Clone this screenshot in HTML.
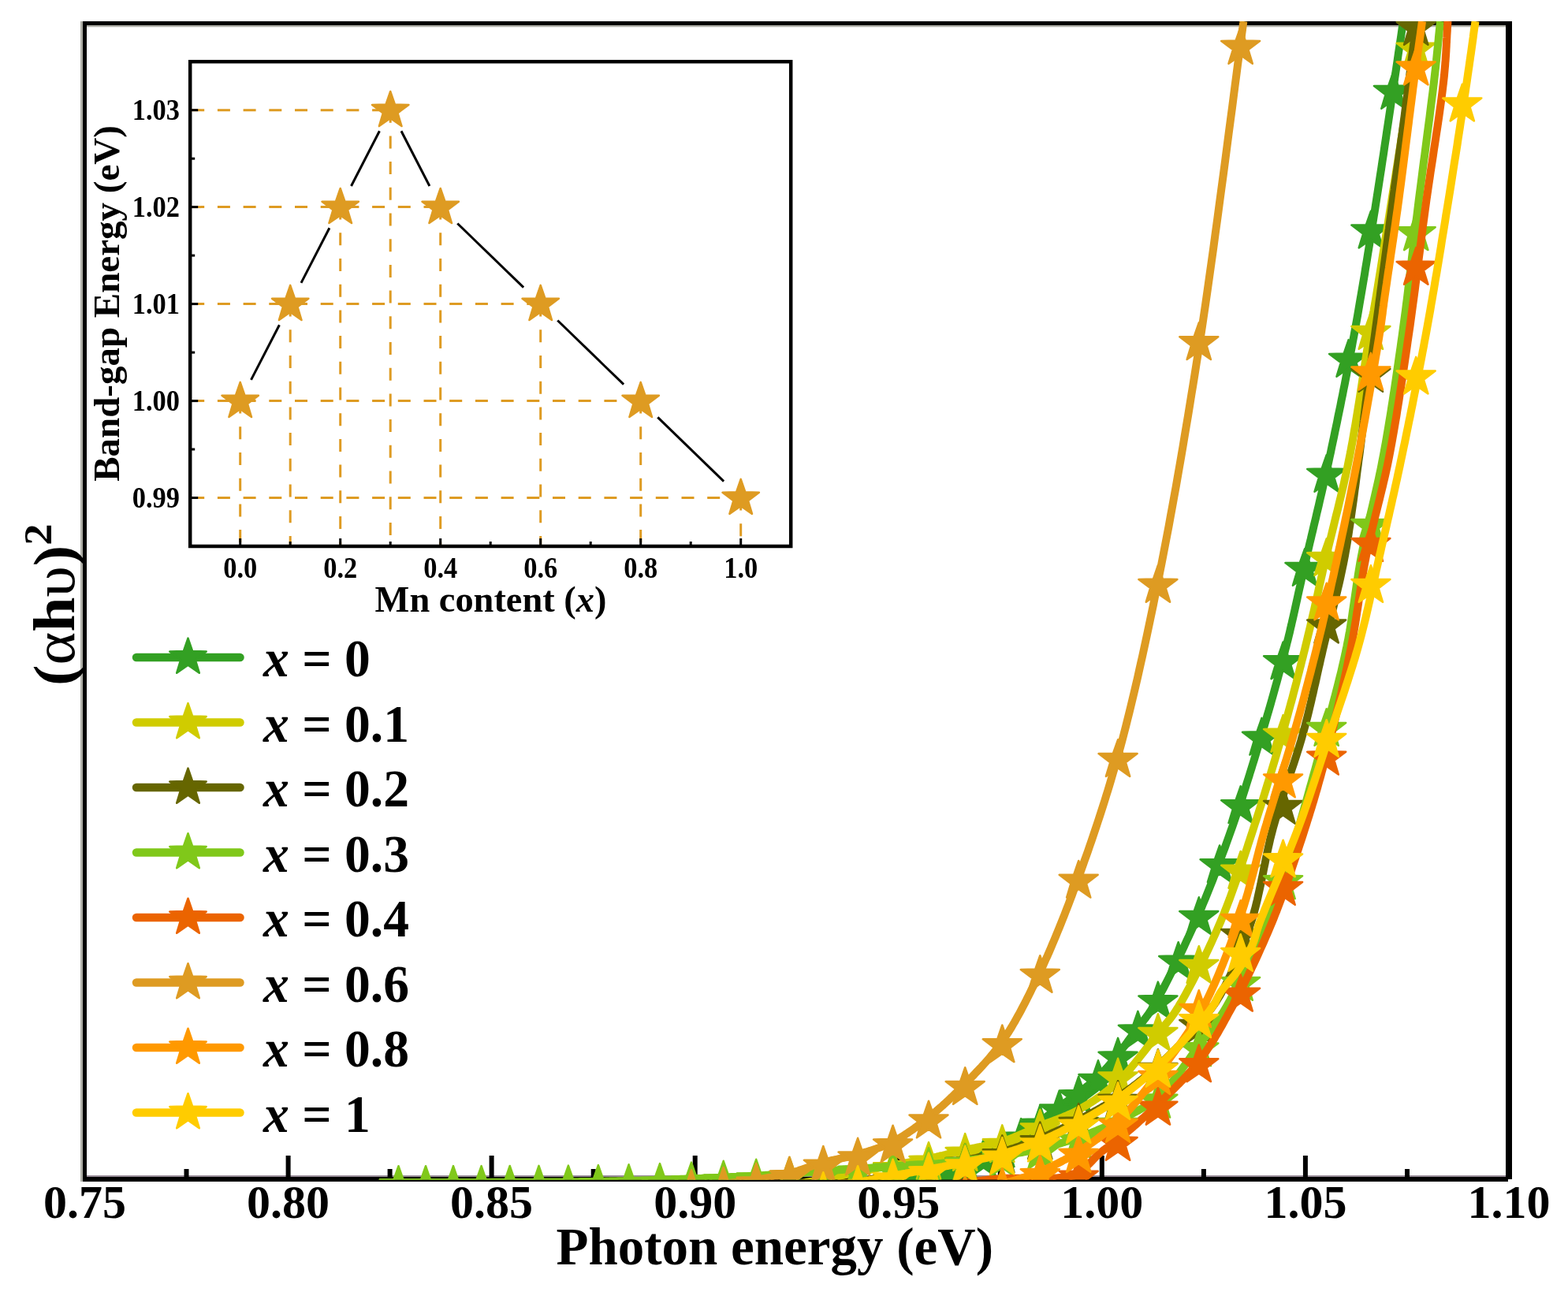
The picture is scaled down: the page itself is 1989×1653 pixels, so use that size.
<!DOCTYPE html><html><head><meta charset="utf-8"><style>html,body{margin:0;padding:0;background:#fff;}svg{display:block;}</style></head><body><svg width="1989" height="1653" viewBox="0 0 1989 1653">
<defs><clipPath id="pc"><rect x="110" y="27" width="1800" height="1469.5"/></clipPath></defs>
<rect width="1989" height="1653" fill="#fff"/>
<g stroke="#b0b0a8" stroke-linecap="butt"><line x1="103.5" y1="27" x2="103.5" y2="1499" stroke-width="3"/><line x1="110" y1="33" x2="1910" y2="33" stroke-width="2.5"/><line x1="110" y1="1492" x2="1910" y2="1492" stroke-width="2" stroke="#9a8e9a"/></g>
<g stroke="#000" stroke-linecap="butt">
<line x1="107.5" y1="27" x2="107.5" y2="1499" stroke-width="5"/>
<line x1="105" y1="29.5" x2="1918" y2="29.5" stroke-width="5"/>
<line x1="1914" y1="27" x2="1914" y2="1496" stroke-width="8"/>
<line x1="105" y1="1496" x2="1913" y2="1496" stroke-width="6"/>
<line x1="236.5" y1="1483" x2="236.5" y2="1494" stroke-width="6"/>
<line x1="365.6" y1="1466" x2="365.6" y2="1494" stroke-width="6"/>
<line x1="494.6" y1="1483" x2="494.6" y2="1494" stroke-width="6"/>
<line x1="623.6" y1="1466" x2="623.6" y2="1494" stroke-width="6"/>
<line x1="752.7" y1="1483" x2="752.7" y2="1494" stroke-width="6"/>
<line x1="881.7" y1="1466" x2="881.7" y2="1494" stroke-width="6"/>
<line x1="1010.7" y1="1483" x2="1010.7" y2="1494" stroke-width="6"/>
<line x1="1139.8" y1="1466" x2="1139.8" y2="1494" stroke-width="6"/>
<line x1="1268.8" y1="1483" x2="1268.8" y2="1494" stroke-width="6"/>
<line x1="1397.8" y1="1466" x2="1397.8" y2="1494" stroke-width="6"/>
<line x1="1526.9" y1="1483" x2="1526.9" y2="1494" stroke-width="6"/>
<line x1="1655.9" y1="1466" x2="1655.9" y2="1494" stroke-width="6"/>
<line x1="1785.0" y1="1483" x2="1785.0" y2="1494" stroke-width="6"/>
</g>
<g clip-path="url(#pc)">
<path d="M1780.0,27.0 L1778.5,36.7 L1777.1,46.6 L1775.6,56.4 L1774.1,66.3 L1772.7,76.3 L1771.2,86.3 L1769.7,96.3 L1768.2,106.3 L1766.7,116.3 L1765.2,126.3 L1763.8,136.3 L1762.3,146.2 L1760.8,156.2 L1759.3,166.0 L1757.9,175.8 L1756.4,185.6 L1755.0,195.3 L1753.5,204.8 L1752.1,214.3 L1750.6,223.7 L1749.2,233.0 L1747.8,242.1 L1746.4,251.1 L1745.0,260.0 L1743.9,267.2 L1742.7,274.4 L1741.6,281.4 L1740.5,288.4 L1739.4,295.3 L1738.3,302.1 L1737.3,308.9 L1736.2,315.6 L1735.1,322.2 L1734.1,328.8 L1733.0,335.4 L1731.9,341.9 L1730.9,348.4 L1729.8,354.9 L1728.7,361.4 L1727.6,367.8 L1726.5,374.3 L1725.4,380.7 L1724.3,387.2 L1723.2,393.7 L1722.1,400.2 L1720.9,406.8 L1719.7,413.4 L1718.5,420.0 L1717.3,426.7 L1716.0,433.4 L1714.8,440.1 L1713.5,446.9 L1712.2,453.7 L1710.9,460.4 L1709.6,467.2 L1708.3,474.0 L1707.0,480.8 L1705.7,487.6 L1704.3,494.3 L1703.0,501.1 L1701.6,507.8 L1700.3,514.6 L1698.9,521.3 L1697.5,527.9 L1696.2,534.6 L1694.8,541.2 L1693.4,547.8 L1692.1,554.3 L1690.7,560.8 L1689.3,567.3 L1688.0,573.7 L1686.6,580.0 L1685.4,585.7 L1684.1,591.4 L1682.9,597.0 L1681.6,602.6 L1680.4,608.2 L1679.1,613.7 L1677.8,619.3 L1676.6,624.8 L1675.3,630.2 L1674.0,635.7 L1672.8,641.1 L1671.5,646.5 L1670.2,651.9 L1669.0,657.3 L1667.7,662.7 L1666.4,668.0 L1665.2,673.3 L1663.9,678.6 L1662.7,683.9 L1661.4,689.1 L1660.2,694.4 L1659.0,699.6 L1657.8,704.8 L1656.6,710.0 L1655.5,714.8 L1654.4,719.5 L1653.4,724.2 L1652.3,728.9 L1651.3,733.5 L1650.3,738.2 L1649.3,742.8 L1648.2,747.4 L1647.2,751.9 L1646.2,756.5 L1645.2,761.1 L1644.2,765.6 L1643.2,770.1 L1642.2,774.7 L1641.2,779.2 L1640.2,783.7 L1639.1,788.2 L1638.1,792.8 L1637.0,797.3 L1636.0,801.8 L1634.9,806.3 L1633.8,810.9 L1632.6,815.4 L1631.5,820.0 L1630.3,824.6 L1629.2,829.2 L1628.0,833.8 L1626.8,838.3 L1625.6,842.9 L1624.4,847.4 L1623.2,852.0 L1621.9,856.6 L1620.7,861.1 L1619.5,865.7 L1618.2,870.2 L1616.9,874.8 L1615.7,879.3 L1614.4,883.9 L1613.1,888.5 L1611.8,893.1 L1610.5,897.6 L1609.2,902.2 L1607.8,906.8 L1606.5,911.4 L1605.1,916.1 L1603.8,920.7 L1602.4,925.3 L1601.0,930.0 L1599.5,934.9 L1598.1,939.8 L1596.6,944.8 L1595.1,949.8 L1593.6,954.7 L1592.1,959.7 L1590.6,964.7 L1589.0,969.7 L1587.5,974.7 L1585.9,979.7 L1584.4,984.8 L1582.8,989.8 L1581.2,994.8 L1579.6,999.9 L1578.0,1004.9 L1576.4,1009.9 L1574.7,1015.0 L1573.1,1020.0 L1571.4,1025.0 L1569.7,1030.0 L1568.0,1035.0 L1566.3,1040.0 L1564.6,1045.0 L1562.8,1050.0 L1561.0,1055.0 L1559.2,1060.1 L1557.4,1065.1 L1555.6,1070.2 L1553.8,1075.2 L1551.9,1080.3 L1550.0,1085.3 L1548.2,1090.4 L1546.3,1095.4 L1544.4,1100.5 L1542.4,1105.5 L1540.5,1110.6 L1538.6,1115.6 L1536.6,1120.6 L1534.6,1125.6 L1532.6,1130.6 L1530.6,1135.6 L1528.6,1140.6 L1526.5,1145.5 L1524.5,1150.5 L1522.4,1155.4 L1520.3,1160.3 L1518.1,1165.1 L1516.0,1170.0 L1513.9,1174.8 L1511.7,1179.7 L1509.4,1184.6 L1507.1,1189.7 L1504.7,1194.7 L1502.4,1199.8 L1499.9,1205.0 L1497.5,1210.1 L1495.0,1215.2 L1492.6,1220.3 L1490.1,1225.4 L1487.6,1230.4 L1485.2,1235.3 L1482.8,1240.1 L1480.4,1244.8 L1478.0,1249.4 L1475.7,1253.9 L1473.4,1258.2 L1471.1,1262.3 L1469.0,1266.3 L1466.8,1270.1 L1464.8,1273.6 L1462.9,1276.9 L1461.0,1280.0 L1460.1,1281.5 L1459.2,1282.9 L1458.3,1284.2 L1457.4,1285.5 L1456.6,1286.7 L1455.8,1287.9 L1454.9,1289.0 L1454.1,1290.1 L1453.3,1291.2 L1452.6,1292.2 L1451.8,1293.2 L1451.0,1294.2 L1450.2,1295.1 L1449.5,1296.1 L1448.7,1297.0 L1447.9,1298.0 L1447.2,1298.9 L1446.4,1299.9 L1445.6,1300.8 L1444.8,1301.8 L1444.0,1302.8 L1443.2,1303.8 L1442.4,1304.9 L1441.6,1306.0 L1440.7,1307.2 L1439.8,1308.4 L1438.9,1309.6 L1438.0,1310.9 L1437.1,1312.1 L1436.2,1313.4 L1435.3,1314.6 L1434.4,1315.9 L1433.5,1317.1 L1432.6,1318.4 L1431.7,1319.6 L1430.8,1320.9 L1429.9,1322.2 L1429.0,1323.4 L1428.1,1324.7 L1427.1,1326.0 L1426.2,1327.2 L1425.2,1328.5 L1424.3,1329.7 L1423.3,1331.0 L1422.4,1332.3 L1421.4,1333.5 L1420.4,1334.8 L1419.4,1336.0 L1418.3,1337.3 L1417.3,1338.6 L1416.3,1339.9 L1415.2,1341.2 L1414.2,1342.5 L1413.1,1343.8 L1412.1,1345.1 L1411.0,1346.4 L1409.9,1347.7 L1408.9,1349.0 L1407.8,1350.2 L1406.7,1351.5 L1405.6,1352.8 L1404.4,1354.1 L1403.3,1355.4 L1402.1,1356.7 L1400.9,1358.0 L1399.7,1359.3 L1398.5,1360.5 L1397.3,1361.8 L1396.0,1363.1 L1394.7,1364.4 L1393.4,1365.7 L1392.0,1367.0 L1390.3,1368.6 L1388.5,1370.2 L1386.7,1371.8 L1384.8,1373.4 L1382.9,1375.0 L1380.9,1376.5 L1379.0,1378.1 L1376.9,1379.7 L1374.9,1381.3 L1372.8,1382.9 L1370.7,1384.5 L1368.6,1386.1 L1366.4,1387.7 L1364.3,1389.3 L1362.1,1390.9 L1360.0,1392.5 L1357.8,1394.1 L1355.7,1395.7 L1353.5,1397.2 L1351.4,1398.8 L1349.2,1400.4 L1347.1,1401.9 L1345.1,1403.5 L1343.0,1405.0 L1341.0,1406.5 L1339.0,1408.0 L1337.0,1409.5 L1335.0,1411.1 L1333.0,1412.6 L1331.0,1414.1 L1329.0,1415.6 L1327.0,1417.1 L1325.0,1418.7 L1323.0,1420.2 L1321.0,1421.7 L1319.0,1423.2 L1317.0,1424.6 L1315.0,1426.1 L1313.0,1427.6 L1311.0,1429.0 L1309.0,1430.5 L1307.0,1431.9 L1305.0,1433.3 L1303.0,1434.7 L1301.0,1436.0 L1299.0,1437.4 L1297.0,1438.7 L1295.0,1440.0 L1293.1,1441.2 L1291.3,1442.4 L1289.4,1443.5 L1287.6,1444.7 L1285.7,1445.8 L1283.9,1446.9 L1282.0,1448.0 L1280.2,1449.1 L1278.3,1450.2 L1276.5,1451.3 L1274.6,1452.3 L1272.8,1453.4 L1270.9,1454.4 L1269.0,1455.4 L1267.2,1456.4 L1265.3,1457.4 L1263.4,1458.4 L1261.5,1459.4 L1259.6,1460.3 L1257.7,1461.3 L1255.8,1462.2 L1253.9,1463.2 L1252.0,1464.1 L1250.0,1465.0 L1248.0,1465.9 L1246.0,1466.8 L1244.0,1467.7 L1241.9,1468.6 L1239.9,1469.5 L1237.8,1470.4 L1235.8,1471.3 L1233.7,1472.1 L1231.6,1472.9 L1229.5,1473.8 L1227.4,1474.6 L1225.3,1475.4 L1223.2,1476.2 L1221.1,1477.0 L1219.0,1477.7 L1216.9,1478.5 L1214.8,1479.2 L1212.7,1480.0 L1210.6,1480.7 L1208.4,1481.4 L1206.3,1482.0 L1204.2,1482.7 L1202.1,1483.4 L1200.0,1484.0 L1197.9,1484.6 L1195.9,1485.2 L1193.8,1485.8 L1191.7,1486.3 L1189.7,1486.8 L1187.6,1487.4 L1185.5,1487.9 L1183.4,1488.4 L1181.3,1488.8 L1179.3,1489.3 L1177.2,1489.8 L1175.1,1490.2 L1173.0,1490.7 L1170.9,1491.1 L1168.8,1491.5 L1166.7,1491.9 L1164.6,1492.3 L1162.5,1492.7 L1160.5,1493.1 L1158.4,1493.5 L1156.3,1493.9 L1154.2,1494.2 L1152.1,1494.6 L1150.0,1495.0 L1147.9,1495.4 L1145.9,1495.7 L1143.9,1496.1 L1141.9,1496.4 L1139.9,1496.8 L1137.9,1497.1 L1136.0,1497.4 L1134.0,1497.7 L1132.0,1498.0 L1130.1,1498.3 L1128.1,1498.6 L1126.1,1498.9 L1124.1,1499.2 L1122.1,1499.4 L1120.0,1499.7 L1118.0,1500.0 L1115.9,1500.2 L1113.7,1500.5 L1111.6,1500.8 L1109.3,1501.0 L1107.1,1501.3 L1104.8,1501.5 L1102.4,1501.8 L1100.0,1502.0 L1096.6,1502.3 L1093.1,1502.7 L1089.7,1503.0 L1086.2,1503.3 L1082.8,1503.6 L1079.3,1503.9 L1075.7,1504.2 L1072.1,1504.5 L1068.5,1504.7 L1064.7,1505.0 L1060.9,1505.2 L1057.1,1505.5 L1053.1,1505.7 L1049.0,1506.0 L1044.7,1506.2 L1040.4,1506.4 L1035.9,1506.6 L1031.3,1506.8 L1026.5,1507.0 L1021.6,1507.2 L1016.5,1507.4 L1011.2,1507.6 L1005.7,1507.8 L1000.0,1508.0 L986.1,1508.4 L970.9,1508.7 L954.4,1509.0 L936.8,1509.3 L918.2,1509.5 L898.6,1509.6 L878.0,1509.8 L856.7,1509.9 L834.7,1509.9 L812.1,1510.0 L789.0,1510.0 L765.4,1510.0 L741.4,1510.0 L717.2,1510.0 L692.8,1510.0 L668.4,1509.9 L643.9,1509.9 L619.5,1509.9 L595.3,1509.9 L571.4,1509.9 L547.8,1509.9 L524.6,1509.9 L502.0,1509.9 L480.0,1510.0" fill="none" stroke="#33a023" stroke-width="10" stroke-linejoin="round"/>
<path d="M1767.4,91.2 L1773.5,108.7 L1791.9,109.0 L1777.2,120.2 L1782.5,137.8 L1767.4,127.3 L1752.3,137.8 L1757.6,120.2 L1742.9,109.0 L1761.3,108.7Z M1738.9,267.9 L1744.9,285.3 L1763.4,285.6 L1748.7,296.8 L1754.0,314.4 L1738.9,303.9 L1723.7,314.4 L1729.1,296.8 L1714.4,285.6 L1732.8,285.3Z M1710.6,431.1 L1716.7,448.6 L1735.1,448.9 L1720.4,460.1 L1725.8,477.7 L1710.6,467.2 L1695.5,477.7 L1700.8,460.1 L1686.1,448.9 L1704.6,448.6Z M1682.7,577.2 L1688.7,594.6 L1707.2,595.0 L1692.5,606.1 L1697.8,623.8 L1682.7,613.2 L1667.5,623.8 L1672.9,606.1 L1658.2,595.0 L1676.6,594.6Z M1655.0,696.3 L1661.1,713.7 L1679.5,714.1 L1664.8,725.2 L1670.1,742.8 L1655.0,732.3 L1639.9,742.8 L1645.2,725.2 L1630.5,714.1 L1648.9,713.7Z M1627.6,814.5 L1633.7,832.0 L1652.1,832.3 L1637.4,843.5 L1642.7,861.1 L1627.6,850.6 L1612.5,861.1 L1617.8,843.5 L1603.1,832.3 L1621.6,832.0Z M1600.5,910.9 L1606.6,928.3 L1625.0,928.7 L1610.3,939.9 L1615.6,957.5 L1600.5,947.0 L1585.4,957.5 L1590.7,939.9 L1576.0,928.7 L1594.4,928.3Z M1573.7,997.4 L1579.7,1014.9 L1598.1,1015.2 L1583.5,1026.4 L1588.8,1044.0 L1573.7,1033.5 L1558.5,1044.0 L1563.9,1026.4 L1549.2,1015.2 L1567.6,1014.9Z M1547.1,1072.5 L1553.1,1089.9 L1571.6,1090.3 L1556.9,1101.5 L1562.2,1119.1 L1547.1,1108.6 L1531.9,1119.1 L1537.3,1101.5 L1522.6,1090.3 L1541.0,1089.9Z M1520.8,1138.3 L1526.8,1155.8 L1545.3,1156.1 L1530.6,1167.3 L1535.9,1184.9 L1520.8,1174.4 L1505.6,1184.9 L1511.0,1167.3 L1496.3,1156.1 L1514.7,1155.8Z M1494.7,1195.2 L1500.8,1212.6 L1519.2,1212.9 L1504.5,1224.1 L1509.9,1241.7 L1494.7,1231.2 L1479.6,1241.7 L1484.9,1224.1 L1470.2,1212.9 L1488.7,1212.6Z M1468.9,1245.6 L1475.0,1263.0 L1493.4,1263.4 L1478.7,1274.5 L1484.1,1292.2 L1468.9,1281.7 L1453.8,1292.2 L1459.1,1274.5 L1444.4,1263.4 L1462.9,1263.0Z M1443.4,1282.9 L1449.4,1300.3 L1467.9,1300.7 L1453.2,1311.8 L1458.5,1329.5 L1443.4,1319.0 L1428.2,1329.5 L1433.6,1311.8 L1418.9,1300.7 L1437.3,1300.3Z M1418.1,1316.9 L1424.1,1334.3 L1442.6,1334.7 L1427.9,1345.8 L1433.2,1363.5 L1418.1,1352.9 L1402.9,1363.5 L1408.3,1345.8 L1393.6,1334.7 L1412.0,1334.3Z M1393.0,1345.3 L1399.1,1362.7 L1417.5,1363.1 L1402.8,1374.2 L1408.2,1391.9 L1393.0,1381.3 L1377.9,1391.9 L1383.2,1374.2 L1368.5,1363.1 L1387.0,1362.7Z M1368.2,1365.7 L1374.3,1383.1 L1392.7,1383.4 L1378.0,1394.6 L1383.3,1412.2 L1368.2,1401.7 L1353.1,1412.2 L1358.4,1394.6 L1343.7,1383.4 L1362.2,1383.1Z M1343.6,1383.8 L1349.7,1401.2 L1368.1,1401.6 L1353.4,1412.7 L1358.8,1430.4 L1343.6,1419.8 L1328.5,1430.4 L1333.8,1412.7 L1319.2,1401.6 L1337.6,1401.2Z M1319.3,1402.2 L1325.4,1419.6 L1343.8,1420.0 L1329.1,1431.1 L1334.4,1448.8 L1319.3,1438.3 L1304.2,1448.8 L1309.5,1431.1 L1294.8,1420.0 L1313.2,1419.6Z M1295.2,1419.1 L1301.2,1436.5 L1319.7,1436.9 L1305.0,1448.1 L1310.3,1465.7 L1295.2,1455.2 L1280.1,1465.7 L1285.4,1448.1 L1270.7,1436.9 L1289.1,1436.5Z M1271.3,1433.4 L1277.4,1450.8 L1295.8,1451.2 L1281.1,1462.3 L1286.4,1480.0 L1271.3,1469.5 L1256.2,1480.0 L1261.5,1462.3 L1246.8,1451.2 L1265.3,1450.8Z M1247.7,1445.3 L1253.7,1462.7 L1272.1,1463.1 L1257.5,1474.3 L1262.8,1491.9 L1247.7,1481.4 L1232.5,1491.9 L1237.9,1474.3 L1223.2,1463.1 L1241.6,1462.7Z M1224.2,1455.1 L1230.3,1472.5 L1248.7,1472.9 L1234.0,1484.0 L1239.4,1501.6 L1224.2,1491.1 L1209.1,1501.6 L1214.4,1484.0 L1199.7,1472.9 L1218.2,1472.5Z M1201.0,1462.9 L1207.1,1480.4 L1225.5,1480.7 L1210.8,1491.9 L1216.1,1509.5 L1201.0,1499.0 L1185.9,1509.5 L1191.2,1491.9 L1176.5,1480.7 L1194.9,1480.4Z M1178.0,1468.8 L1184.1,1486.3 L1202.5,1486.6 L1187.8,1497.8 L1193.1,1515.4 L1178.0,1504.9 L1162.9,1515.4 L1168.2,1497.8 L1153.5,1486.6 L1171.9,1486.3Z M1155.2,1473.3 L1161.3,1490.7 L1179.7,1491.1 L1165.0,1502.2 L1170.3,1519.9 L1155.2,1509.4 L1140.1,1519.9 L1145.4,1502.2 L1130.7,1491.1 L1149.2,1490.7Z" fill="#33a023" stroke="#33a023" stroke-width="2.5" stroke-linejoin="round"/>
<path d="M1801.0,27.0 L1800.8,28.5 L1800.6,29.9 L1800.4,31.2 L1800.2,32.6 L1800.0,33.8 L1799.8,35.1 L1799.6,36.4 L1799.4,37.6 L1799.2,38.9 L1799.0,40.1 L1798.8,41.4 L1798.6,42.7 L1798.4,44.0 L1798.2,45.4 L1798.0,46.8 L1797.8,48.2 L1797.5,49.8 L1797.3,51.4 L1797.0,53.0 L1796.8,54.8 L1796.5,56.6 L1796.2,58.6 L1795.8,60.6 L1795.5,62.8 L1794.3,70.2 L1792.9,79.2 L1791.3,89.4 L1789.5,100.9 L1787.5,113.5 L1785.4,127.0 L1783.1,141.3 L1780.8,156.4 L1778.3,171.9 L1775.8,187.9 L1773.2,204.2 L1770.6,220.6 L1768.0,237.0 L1765.4,253.3 L1762.9,269.3 L1760.4,285.0 L1757.9,300.1 L1755.6,314.5 L1753.4,328.2 L1751.4,341.0 L1749.5,352.6 L1747.8,363.1 L1746.3,372.3 L1745.0,380.0 L1744.6,382.4 L1744.2,384.6 L1743.9,386.6 L1743.5,388.6 L1743.2,390.4 L1742.9,392.1 L1742.7,393.7 L1742.4,395.2 L1742.1,396.6 L1741.9,398.0 L1741.6,399.4 L1741.4,400.7 L1741.2,402.0 L1740.9,403.4 L1740.7,404.7 L1740.4,406.1 L1740.2,407.5 L1739.9,409.0 L1739.6,410.6 L1739.3,412.2 L1739.0,414.0 L1738.7,415.9 L1738.4,417.9 L1738.0,420.0 L1737.2,424.6 L1736.4,429.7 L1735.6,435.0 L1734.7,440.7 L1733.7,446.7 L1732.8,452.9 L1731.8,459.4 L1730.8,466.1 L1729.7,473.0 L1728.6,480.0 L1727.5,487.2 L1726.4,494.4 L1725.3,501.8 L1724.1,509.2 L1722.9,516.6 L1721.7,524.0 L1720.5,531.4 L1719.3,538.7 L1718.0,546.0 L1716.8,553.1 L1715.6,560.1 L1714.3,566.9 L1713.1,573.6 L1711.8,580.0 L1710.6,585.7 L1709.5,591.4 L1708.3,597.0 L1707.1,602.6 L1705.8,608.2 L1704.6,613.8 L1703.3,619.3 L1702.0,624.8 L1700.7,630.3 L1699.4,635.7 L1698.1,641.2 L1696.8,646.6 L1695.4,652.0 L1694.1,657.3 L1692.8,662.7 L1691.5,668.0 L1690.2,673.3 L1688.9,678.6 L1687.6,683.9 L1686.3,689.1 L1685.0,694.4 L1683.8,699.6 L1682.5,704.8 L1681.3,710.0 L1680.2,714.8 L1679.1,719.5 L1678.0,724.2 L1677.0,728.9 L1675.9,733.5 L1674.9,738.2 L1673.8,742.8 L1672.8,747.4 L1671.8,751.9 L1670.8,756.5 L1669.7,761.1 L1668.7,765.6 L1667.7,770.1 L1666.7,774.7 L1665.6,779.2 L1664.6,783.7 L1663.6,788.2 L1662.5,792.7 L1661.5,797.3 L1660.4,801.8 L1659.3,806.3 L1658.2,810.9 L1657.1,815.4 L1656.0,820.0 L1654.9,824.6 L1653.7,829.2 L1652.6,833.7 L1651.4,838.3 L1650.3,842.9 L1649.1,847.4 L1648.0,852.0 L1646.8,856.5 L1645.6,861.1 L1644.5,865.7 L1643.3,870.2 L1642.1,874.8 L1640.9,879.3 L1639.7,883.9 L1638.5,888.5 L1637.2,893.0 L1636.0,897.6 L1634.7,902.2 L1633.5,906.8 L1632.2,911.4 L1630.9,916.1 L1629.6,920.7 L1628.3,925.3 L1627.0,930.0 L1625.6,934.9 L1624.2,939.8 L1622.8,944.8 L1621.3,949.7 L1619.9,954.7 L1618.4,959.7 L1616.9,964.7 L1615.4,969.7 L1613.9,974.7 L1612.4,979.7 L1610.9,984.7 L1609.4,989.8 L1607.8,994.8 L1606.3,999.8 L1604.7,1004.9 L1603.2,1009.9 L1601.6,1014.9 L1600.0,1020.0 L1598.4,1025.0 L1596.8,1030.0 L1595.2,1035.0 L1593.6,1040.0 L1591.9,1045.0 L1590.3,1050.0 L1588.7,1055.0 L1587.0,1060.1 L1585.4,1065.1 L1583.7,1070.1 L1582.1,1075.2 L1580.4,1080.3 L1578.8,1085.3 L1577.1,1090.4 L1575.4,1095.4 L1573.8,1100.5 L1572.1,1105.5 L1570.3,1110.6 L1568.6,1115.6 L1566.9,1120.6 L1565.1,1125.6 L1563.3,1130.6 L1561.5,1135.6 L1559.7,1140.6 L1557.8,1145.5 L1555.9,1150.5 L1554.0,1155.4 L1552.0,1160.3 L1550.0,1165.2 L1548.0,1170.0 L1545.9,1174.8 L1543.8,1179.7 L1541.6,1184.6 L1539.4,1189.6 L1537.1,1194.7 L1534.8,1199.7 L1532.4,1204.8 L1530.0,1209.9 L1527.6,1215.0 L1525.2,1220.0 L1522.7,1225.0 L1520.3,1230.0 L1517.8,1234.9 L1515.4,1239.7 L1513.0,1244.4 L1510.6,1249.0 L1508.2,1253.4 L1505.9,1257.7 L1503.6,1261.9 L1501.3,1265.9 L1499.2,1269.8 L1497.0,1273.4 L1495.0,1276.8 L1493.0,1280.0 L1491.9,1281.7 L1490.9,1283.2 L1489.9,1284.7 L1488.9,1286.2 L1488.0,1287.5 L1487.0,1288.8 L1486.1,1290.1 L1485.2,1291.3 L1484.3,1292.4 L1483.4,1293.6 L1482.5,1294.7 L1481.6,1295.7 L1480.7,1296.8 L1479.8,1297.9 L1478.9,1299.0 L1478.0,1300.1 L1477.1,1301.2 L1476.1,1302.3 L1475.1,1303.5 L1474.1,1304.7 L1473.0,1305.9 L1472.0,1307.2 L1470.9,1308.6 L1469.7,1310.0 L1468.0,1312.2 L1466.2,1314.5 L1464.3,1316.9 L1462.4,1319.3 L1460.5,1321.9 L1458.5,1324.5 L1456.4,1327.2 L1454.4,1329.9 L1452.3,1332.6 L1450.1,1335.4 L1447.9,1338.2 L1445.7,1341.0 L1443.5,1343.8 L1441.3,1346.6 L1439.0,1349.4 L1436.7,1352.2 L1434.5,1354.9 L1432.2,1357.6 L1429.9,1360.2 L1427.6,1362.7 L1425.3,1365.2 L1423.0,1367.5 L1420.7,1369.8 L1418.4,1372.0 L1416.4,1373.8 L1414.4,1375.6 L1412.4,1377.4 L1410.3,1379.2 L1408.3,1380.9 L1406.2,1382.6 L1404.1,1384.2 L1402.0,1385.8 L1400.0,1387.4 L1397.9,1389.0 L1395.8,1390.5 L1393.6,1392.0 L1391.5,1393.5 L1389.4,1394.9 L1387.3,1396.3 L1385.1,1397.7 L1383.0,1399.1 L1380.9,1400.4 L1378.7,1401.7 L1376.6,1403.0 L1374.4,1404.3 L1372.3,1405.6 L1370.1,1406.8 L1368.0,1408.0 L1366.0,1409.1 L1364.1,1410.1 L1362.1,1411.1 L1360.1,1412.1 L1358.1,1413.0 L1356.1,1413.9 L1354.1,1414.8 L1352.1,1415.7 L1350.1,1416.5 L1348.1,1417.3 L1346.1,1418.1 L1344.1,1418.9 L1342.1,1419.7 L1340.1,1420.4 L1338.1,1421.2 L1336.1,1422.0 L1334.1,1422.7 L1332.0,1423.5 L1330.0,1424.2 L1328.0,1425.0 L1326.0,1425.8 L1324.0,1426.6 L1322.0,1427.4 L1320.0,1428.2 L1318.0,1429.0 L1316.0,1429.9 L1314.0,1430.7 L1312.0,1431.6 L1310.0,1432.5 L1308.0,1433.4 L1306.0,1434.2 L1304.0,1435.1 L1302.0,1436.0 L1300.1,1436.9 L1298.1,1437.7 L1296.1,1438.6 L1294.1,1439.5 L1292.1,1440.3 L1290.1,1441.2 L1288.1,1442.0 L1286.1,1442.8 L1284.1,1443.6 L1282.1,1444.4 L1280.1,1445.1 L1278.0,1445.9 L1276.0,1446.6 L1274.0,1447.2 L1272.0,1447.9 L1270.0,1448.5 L1268.1,1449.1 L1266.1,1449.6 L1264.1,1450.2 L1262.2,1450.7 L1260.2,1451.2 L1258.2,1451.7 L1256.2,1452.1 L1254.3,1452.6 L1252.3,1453.0 L1250.3,1453.4 L1248.3,1453.8 L1246.3,1454.3 L1244.3,1454.7 L1242.4,1455.1 L1240.4,1455.5 L1238.4,1455.9 L1236.4,1456.3 L1234.4,1456.7 L1232.5,1457.1 L1230.5,1457.5 L1228.5,1457.9 L1226.6,1458.3 L1224.6,1458.8 L1222.7,1459.3 L1220.7,1459.7 L1218.8,1460.2 L1216.9,1460.6 L1215.0,1461.1 L1213.1,1461.6 L1211.1,1462.0 L1209.2,1462.5 L1207.3,1463.0 L1205.4,1463.5 L1203.5,1463.9 L1201.6,1464.4 L1199.7,1464.9 L1197.8,1465.3 L1195.9,1465.8 L1193.9,1466.2 L1192.0,1466.7 L1190.1,1467.1 L1188.2,1467.6 L1186.3,1468.0 L1184.4,1468.5 L1182.5,1468.9 L1180.6,1469.3 L1178.7,1469.7 L1176.8,1470.1 L1175.0,1470.5 L1173.1,1470.8 L1171.2,1471.2 L1169.4,1471.6 L1167.5,1471.9 L1165.7,1472.3 L1163.8,1472.6 L1161.9,1473.0 L1160.1,1473.3 L1158.2,1473.6 L1156.4,1474.0 L1154.5,1474.3 L1152.6,1474.6 L1150.8,1475.0 L1148.9,1475.3 L1147.1,1475.6 L1145.2,1475.9 L1143.3,1476.3 L1141.5,1476.6 L1139.6,1477.0 L1137.7,1477.3 L1135.9,1477.6 L1134.0,1478.0 L1132.1,1478.4 L1130.2,1478.7 L1128.3,1479.1 L1126.4,1479.5 L1124.4,1479.8 L1122.5,1480.2 L1120.6,1480.6 L1118.7,1480.9 L1116.7,1481.3 L1114.8,1481.7 L1112.9,1482.1 L1111.0,1482.5 L1109.0,1482.8 L1107.1,1483.2 L1105.2,1483.6 L1103.3,1484.0 L1101.4,1484.3 L1099.4,1484.7 L1097.5,1485.1 L1095.6,1485.5 L1093.7,1485.9 L1091.8,1486.2 L1089.9,1486.6 L1088.0,1487.0 L1086.1,1487.4 L1084.3,1487.7 L1082.5,1488.1 L1080.6,1488.5 L1078.8,1488.9 L1076.9,1489.3 L1075.1,1489.7 L1073.3,1490.1 L1071.4,1490.4 L1069.6,1490.8 L1067.8,1491.2 L1065.9,1491.6 L1064.1,1492.0 L1062.3,1492.4 L1060.5,1492.8 L1058.6,1493.1 L1056.8,1493.5 L1055.0,1493.9 L1053.2,1494.3 L1051.3,1494.6 L1049.5,1495.0 L1047.7,1495.3 L1045.8,1495.7 L1044.0,1496.0 L1042.2,1496.3 L1040.4,1496.7 L1038.6,1497.0 L1036.9,1497.3 L1035.2,1497.6 L1033.4,1498.0 L1031.7,1498.3 L1030.0,1498.6 L1028.3,1498.9 L1026.6,1499.2 L1024.9,1499.5 L1023.1,1499.8 L1021.4,1500.1 L1019.6,1500.4 L1017.8,1500.7 L1016.0,1501.0 L1014.2,1501.2 L1012.3,1501.5 L1010.4,1501.8 L1008.4,1502.0 L1006.4,1502.3 L1004.3,1502.5 L1002.2,1502.8 L1000.0,1503.0 L996.7,1503.3 L993.3,1503.7 L989.9,1504.0 L986.5,1504.2 L983.0,1504.5 L979.5,1504.8 L975.9,1505.0 L972.2,1505.3 L968.5,1505.5 L964.7,1505.7 L960.8,1505.9 L956.9,1506.1 L952.8,1506.3 L948.6,1506.4 L944.3,1506.6 L940.0,1506.8 L935.4,1506.9 L930.8,1507.1 L926.0,1507.2 L921.1,1507.4 L916.1,1507.5 L910.9,1507.7 L905.5,1507.8 L900.0,1508.0 L888.0,1508.3 L875.1,1508.6 L861.3,1508.8 L846.7,1509.0 L831.4,1509.1 L815.3,1509.3 L798.7,1509.4 L781.4,1509.5 L763.7,1509.6 L745.5,1509.6 L726.9,1509.7 L708.1,1509.7 L689.0,1509.7 L669.6,1509.7 L650.2,1509.7 L630.7,1509.7 L611.2,1509.8 L591.8,1509.8 L572.5,1509.8 L553.3,1509.8 L534.5,1509.8 L515.9,1509.9 L497.7,1509.9 L480.0,1510.0" fill="none" stroke="#d0cc00" stroke-width="10" stroke-linejoin="round"/>
<path d="M1796.2,37.0 L1802.3,54.5 L1820.7,54.8 L1806.0,66.0 L1811.4,83.6 L1796.2,73.1 L1781.1,83.6 L1786.4,66.0 L1771.7,54.8 L1790.2,54.5Z M1738.9,396.2 L1744.9,413.7 L1763.4,414.0 L1748.7,425.2 L1754.0,442.8 L1738.9,432.3 L1723.7,442.8 L1729.1,425.2 L1714.4,414.0 L1732.8,413.7Z M1682.7,683.4 L1688.7,700.8 L1707.2,701.2 L1692.5,712.3 L1697.8,730.0 L1682.7,719.4 L1667.5,730.0 L1672.9,712.3 L1658.2,701.2 L1676.6,700.8Z M1627.6,907.1 L1633.7,924.5 L1652.1,924.9 L1637.4,936.0 L1642.7,953.7 L1627.6,943.1 L1612.5,953.7 L1617.8,936.0 L1603.1,924.9 L1621.6,924.5Z M1573.7,1080.0 L1579.7,1097.4 L1598.1,1097.8 L1583.5,1108.9 L1588.8,1126.6 L1573.7,1116.1 L1558.5,1126.6 L1563.9,1108.9 L1549.2,1097.8 L1567.6,1097.4Z M1520.8,1200.2 L1526.8,1217.7 L1545.3,1218.0 L1530.6,1229.2 L1535.9,1246.8 L1520.8,1236.3 L1505.6,1246.8 L1511.0,1229.2 L1496.3,1218.0 L1514.7,1217.7Z M1468.9,1286.2 L1475.0,1303.7 L1493.4,1304.0 L1478.7,1315.2 L1484.1,1332.8 L1468.9,1322.3 L1453.8,1332.8 L1459.1,1315.2 L1444.4,1304.0 L1462.9,1303.7Z M1418.1,1342.8 L1424.1,1360.3 L1442.6,1360.6 L1427.9,1371.8 L1433.2,1389.4 L1418.1,1378.9 L1402.9,1389.4 L1408.3,1371.8 L1393.6,1360.6 L1412.0,1360.3Z M1368.2,1403.2 L1374.3,1420.7 L1392.7,1421.0 L1378.0,1432.2 L1383.3,1449.8 L1368.2,1439.3 L1353.1,1449.8 L1358.4,1432.2 L1343.7,1421.0 L1362.2,1420.7Z M1319.3,1407.7 L1325.4,1425.2 L1343.8,1425.5 L1329.1,1436.7 L1334.4,1454.3 L1319.3,1443.8 L1304.2,1454.3 L1309.5,1436.7 L1294.8,1425.5 L1313.2,1425.2Z M1271.3,1427.4 L1277.4,1444.8 L1295.8,1445.2 L1281.1,1456.3 L1286.4,1473.9 L1271.3,1463.4 L1256.2,1473.9 L1261.5,1456.3 L1246.8,1445.2 L1265.3,1444.8Z M1224.2,1438.1 L1230.3,1455.6 L1248.7,1455.9 L1234.0,1467.1 L1239.4,1484.7 L1224.2,1474.2 L1209.1,1484.7 L1214.4,1467.1 L1199.7,1455.9 L1218.2,1455.6Z M1178.0,1449.1 L1184.1,1466.5 L1202.5,1466.9 L1187.8,1478.0 L1193.1,1495.7 L1178.0,1485.1 L1162.9,1495.7 L1168.2,1478.0 L1153.5,1466.9 L1171.9,1466.5Z M1132.6,1457.5 L1138.7,1474.9 L1157.1,1475.3 L1142.4,1486.4 L1147.8,1504.1 L1132.6,1493.6 L1117.5,1504.1 L1122.8,1486.4 L1108.1,1475.3 L1126.6,1474.9Z" fill="#d0cc00" stroke="#d0cc00" stroke-width="2.5" stroke-linejoin="round"/>
<path d="M1796.7,27.0 L1796.1,31.9 L1795.5,36.8 L1794.9,41.6 L1794.3,46.5 L1793.7,51.4 L1793.1,56.3 L1792.5,61.1 L1791.9,66.0 L1791.2,70.9 L1790.6,75.8 L1790.0,80.7 L1789.4,85.5 L1788.8,90.4 L1788.2,95.3 L1787.6,100.2 L1787.0,105.0 L1786.4,109.9 L1785.8,114.8 L1785.2,119.7 L1784.5,124.5 L1783.9,129.4 L1783.3,134.3 L1782.6,139.1 L1782.0,144.0 L1781.4,148.8 L1780.7,153.7 L1780.1,158.5 L1779.4,163.3 L1778.8,168.2 L1778.1,173.0 L1777.4,177.8 L1776.8,182.6 L1776.1,187.5 L1775.4,192.3 L1774.7,197.1 L1774.1,201.9 L1773.4,206.7 L1772.7,211.6 L1772.0,216.4 L1771.4,221.2 L1770.7,226.0 L1770.0,230.9 L1769.3,235.7 L1768.7,240.6 L1768.0,245.4 L1767.3,250.3 L1766.7,255.1 L1766.0,260.0 L1765.3,265.0 L1764.7,269.9 L1764.0,274.9 L1763.3,279.9 L1762.6,284.9 L1762.0,289.9 L1761.3,294.8 L1760.6,299.8 L1760.0,304.8 L1759.3,309.9 L1758.6,314.9 L1758.0,319.9 L1757.3,324.9 L1756.7,329.9 L1756.0,334.9 L1755.3,339.9 L1754.7,344.9 L1754.0,350.0 L1753.3,355.0 L1752.7,360.0 L1752.0,365.0 L1751.3,370.0 L1750.7,375.0 L1750.0,380.0 L1749.3,385.0 L1748.7,390.1 L1748.0,395.2 L1747.3,400.3 L1746.6,405.4 L1745.9,410.6 L1745.2,415.7 L1744.5,420.9 L1743.8,426.1 L1743.1,431.2 L1742.4,436.4 L1741.7,441.5 L1741.1,446.6 L1740.4,451.7 L1739.7,456.8 L1739.0,461.8 L1738.4,466.8 L1737.7,471.7 L1737.1,476.6 L1736.4,481.4 L1735.8,486.2 L1735.2,490.8 L1734.6,495.5 L1734.0,500.0 L1733.5,503.6 L1733.1,507.2 L1732.6,510.6 L1732.2,514.0 L1731.8,517.4 L1731.4,520.7 L1731.0,523.9 L1730.6,527.1 L1730.2,530.3 L1729.9,533.5 L1729.5,536.7 L1729.1,539.8 L1728.7,543.0 L1728.3,546.1 L1727.9,549.3 L1727.5,552.5 L1727.1,555.7 L1726.7,559.0 L1726.3,562.4 L1725.9,565.7 L1725.4,569.2 L1725.0,572.7 L1724.5,576.3 L1724.0,580.0 L1723.3,584.8 L1722.7,589.8 L1722.0,594.8 L1721.3,600.0 L1720.7,605.2 L1720.0,610.6 L1719.3,616.0 L1718.5,621.5 L1717.8,627.0 L1717.1,632.5 L1716.3,638.2 L1715.5,643.8 L1714.7,649.4 L1713.9,655.1 L1713.1,660.7 L1712.3,666.4 L1711.4,672.0 L1710.6,677.6 L1709.7,683.2 L1708.8,688.7 L1707.9,694.1 L1706.9,699.5 L1706.0,704.8 L1705.0,710.0 L1704.1,714.8 L1703.1,719.5 L1702.1,724.2 L1701.1,728.9 L1700.1,733.6 L1699.1,738.2 L1698.0,742.8 L1696.9,747.4 L1695.8,752.0 L1694.7,756.6 L1693.6,761.1 L1692.5,765.6 L1691.4,770.2 L1690.2,774.7 L1689.1,779.2 L1688.0,783.7 L1686.8,788.2 L1685.7,792.7 L1684.6,797.3 L1683.4,801.8 L1682.3,806.3 L1681.2,810.9 L1680.1,815.4 L1679.0,820.0 L1677.9,824.6 L1676.9,829.2 L1675.8,833.7 L1674.8,838.3 L1673.8,842.9 L1672.7,847.4 L1671.7,852.0 L1670.7,856.5 L1669.7,861.1 L1668.7,865.7 L1667.6,870.2 L1666.6,874.8 L1665.6,879.3 L1664.5,883.9 L1663.5,888.5 L1662.4,893.1 L1661.3,897.7 L1660.2,902.2 L1659.1,906.8 L1657.9,911.5 L1656.7,916.1 L1655.5,920.7 L1654.3,925.3 L1653.0,930.0 L1651.6,934.9 L1650.2,939.9 L1648.7,944.8 L1647.2,949.8 L1645.6,954.7 L1644.0,959.7 L1642.4,964.7 L1640.8,969.7 L1639.1,974.6 L1637.4,979.6 L1635.8,984.7 L1634.1,989.7 L1632.4,994.7 L1630.7,999.7 L1629.0,1004.7 L1627.3,1009.8 L1625.7,1014.8 L1624.1,1019.8 L1622.5,1024.8 L1620.9,1029.9 L1619.4,1034.9 L1617.9,1039.9 L1616.4,1045.0 L1615.0,1050.0 L1613.7,1055.0 L1612.4,1060.0 L1611.1,1065.1 L1610.0,1070.2 L1608.8,1075.3 L1607.7,1080.4 L1606.6,1085.5 L1605.5,1090.6 L1604.5,1095.8 L1603.4,1100.9 L1602.4,1106.1 L1601.4,1111.2 L1600.3,1116.3 L1599.3,1121.4 L1598.2,1126.4 L1597.1,1131.4 L1596.0,1136.4 L1594.9,1141.4 L1593.7,1146.3 L1592.5,1151.1 L1591.2,1155.9 L1589.8,1160.7 L1588.5,1165.4 L1587.0,1170.0 L1585.7,1174.1 L1584.3,1178.2 L1582.9,1182.3 L1581.4,1186.4 L1579.9,1190.5 L1578.4,1194.6 L1576.9,1198.7 L1575.3,1202.7 L1573.7,1206.7 L1572.1,1210.7 L1570.5,1214.7 L1568.9,1218.6 L1567.2,1222.4 L1565.6,1226.2 L1563.9,1230.0 L1562.3,1233.7 L1560.6,1237.3 L1558.9,1240.8 L1557.2,1244.2 L1555.6,1247.6 L1553.9,1250.8 L1552.3,1254.0 L1550.6,1257.1 L1549.0,1260.0 L1547.9,1262.0 L1546.8,1263.9 L1545.7,1265.7 L1544.6,1267.4 L1543.6,1269.1 L1542.5,1270.8 L1541.4,1272.4 L1540.4,1274.0 L1539.3,1275.5 L1538.3,1277.0 L1537.2,1278.5 L1536.1,1280.0 L1535.0,1281.4 L1533.9,1282.9 L1532.8,1284.3 L1531.7,1285.8 L1530.5,1287.2 L1529.3,1288.7 L1528.1,1290.2 L1526.9,1291.7 L1525.6,1293.2 L1524.3,1294.8 L1523.0,1296.4 L1521.6,1298.0 L1519.8,1300.1 L1517.9,1302.3 L1516.0,1304.5 L1514.0,1306.8 L1512.0,1309.0 L1509.9,1311.3 L1507.8,1313.6 L1505.6,1315.9 L1503.4,1318.3 L1501.2,1320.6 L1499.0,1323.0 L1496.7,1325.3 L1494.4,1327.6 L1492.1,1330.0 L1489.8,1332.3 L1487.5,1334.6 L1485.1,1336.9 L1482.8,1339.1 L1480.5,1341.4 L1478.1,1343.6 L1475.8,1345.7 L1473.5,1347.9 L1471.3,1350.0 L1469.0,1352.0 L1466.9,1353.9 L1464.8,1355.7 L1462.7,1357.5 L1460.6,1359.3 L1458.5,1361.1 L1456.4,1362.9 L1454.3,1364.7 L1452.2,1366.4 L1450.1,1368.1 L1448.0,1369.8 L1445.9,1371.5 L1443.8,1373.2 L1441.6,1374.9 L1439.5,1376.5 L1437.4,1378.1 L1435.2,1379.7 L1433.1,1381.3 L1430.9,1382.9 L1428.8,1384.5 L1426.6,1386.0 L1424.5,1387.5 L1422.3,1389.0 L1420.2,1390.5 L1418.0,1392.0 L1416.0,1393.4 L1413.9,1394.7 L1411.8,1396.1 L1409.8,1397.4 L1407.7,1398.7 L1405.6,1400.0 L1403.5,1401.2 L1401.5,1402.5 L1399.4,1403.7 L1397.3,1404.9 L1395.2,1406.2 L1393.1,1407.4 L1391.0,1408.5 L1388.9,1409.7 L1386.8,1410.9 L1384.7,1412.0 L1382.6,1413.2 L1380.5,1414.3 L1378.4,1415.4 L1376.4,1416.6 L1374.3,1417.7 L1372.2,1418.8 L1370.1,1419.9 L1368.0,1421.0 L1366.0,1422.1 L1364.0,1423.1 L1362.0,1424.1 L1360.0,1425.2 L1358.0,1426.2 L1356.0,1427.2 L1354.0,1428.2 L1352.0,1429.2 L1350.0,1430.2 L1348.1,1431.2 L1346.1,1432.2 L1344.1,1433.2 L1342.1,1434.1 L1340.1,1435.1 L1338.1,1436.0 L1336.1,1436.9 L1334.1,1437.8 L1332.1,1438.8 L1330.1,1439.7 L1328.1,1440.6 L1326.1,1441.4 L1324.0,1442.3 L1322.0,1443.2 L1320.0,1444.0 L1318.0,1444.8 L1316.0,1445.6 L1314.1,1446.4 L1312.1,1447.2 L1310.1,1448.0 L1308.1,1448.8 L1306.1,1449.5 L1304.1,1450.3 L1302.1,1451.0 L1300.1,1451.8 L1298.1,1452.5 L1296.1,1453.2 L1294.1,1453.9 L1292.1,1454.6 L1290.1,1455.3 L1288.1,1456.0 L1286.1,1456.7 L1284.0,1457.3 L1282.0,1457.9 L1280.0,1458.6 L1278.0,1459.2 L1276.0,1459.8 L1274.0,1460.4 L1272.0,1461.0 L1270.0,1461.6 L1268.1,1462.1 L1266.1,1462.6 L1264.2,1463.1 L1262.2,1463.6 L1260.3,1464.1 L1258.3,1464.6 L1256.4,1465.0 L1254.4,1465.5 L1252.4,1465.9 L1250.5,1466.4 L1248.5,1466.8 L1246.6,1467.2 L1244.6,1467.6 L1242.6,1468.0 L1240.7,1468.4 L1238.7,1468.9 L1236.8,1469.3 L1234.8,1469.7 L1232.8,1470.1 L1230.9,1470.5 L1228.9,1470.9 L1227.0,1471.3 L1225.0,1471.7 L1223.0,1472.1 L1221.1,1472.5 L1219.1,1472.9 L1217.2,1473.3 L1215.2,1473.7 L1213.2,1474.1 L1211.3,1474.5 L1209.3,1474.9 L1207.3,1475.3 L1205.4,1475.7 L1203.4,1476.1 L1201.4,1476.4 L1199.5,1476.8 L1197.5,1477.2 L1195.6,1477.6 L1193.6,1478.0 L1191.6,1478.3 L1189.7,1478.7 L1187.7,1479.1 L1185.8,1479.5 L1183.8,1479.9 L1181.9,1480.2 L1179.9,1480.6 L1178.0,1481.0 L1176.1,1481.4 L1174.2,1481.8 L1172.3,1482.1 L1170.4,1482.5 L1168.6,1482.9 L1166.7,1483.3 L1164.8,1483.6 L1162.9,1484.0 L1161.1,1484.4 L1159.2,1484.8 L1157.3,1485.1 L1155.4,1485.5 L1153.6,1485.9 L1151.7,1486.3 L1149.8,1486.6 L1148.0,1487.0 L1146.1,1487.4 L1144.2,1487.8 L1142.4,1488.1 L1140.5,1488.5 L1138.6,1488.9 L1136.7,1489.3 L1134.9,1489.6 L1133.0,1490.0 L1131.1,1490.4 L1129.3,1490.8 L1127.5,1491.1 L1125.7,1491.5 L1123.9,1491.9 L1122.1,1492.3 L1120.3,1492.7 L1118.6,1493.1 L1116.8,1493.5 L1115.0,1493.9 L1113.3,1494.2 L1111.5,1494.6 L1109.7,1495.0 L1107.8,1495.4 L1106.0,1495.8 L1104.1,1496.2 L1102.3,1496.5 L1100.3,1496.9 L1098.4,1497.3 L1096.4,1497.6 L1094.4,1498.0 L1092.3,1498.3 L1090.2,1498.7 L1088.0,1499.0 L1085.0,1499.5 L1081.9,1499.9 L1078.9,1500.4 L1075.9,1500.8 L1072.9,1501.2 L1069.8,1501.6 L1066.7,1502.1 L1063.6,1502.5 L1060.4,1502.9 L1057.2,1503.3 L1053.9,1503.7 L1050.5,1504.1 L1047.0,1504.4 L1043.4,1504.8 L1039.7,1505.2 L1035.9,1505.5 L1032.0,1505.8 L1027.9,1506.2 L1023.7,1506.5 L1019.3,1506.8 L1014.7,1507.1 L1010.0,1507.4 L1005.1,1507.7 L1000.0,1508.0 L986.6,1508.6 L971.9,1509.1 L955.8,1509.6 L938.5,1510.0 L920.0,1510.2 L900.5,1510.5 L880.1,1510.6 L858.8,1510.7 L836.8,1510.8 L814.1,1510.8 L790.9,1510.8 L767.1,1510.8 L743.0,1510.7 L718.7,1510.6 L694.1,1510.5 L669.4,1510.4 L644.7,1510.3 L620.2,1510.2 L595.8,1510.1 L571.7,1510.0 L548.0,1509.9 L524.7,1509.9 L502.0,1509.9 L480.0,1510.0" fill="none" stroke="#666600" stroke-width="10" stroke-linejoin="round"/>
<path d="M1796.2,10.1 L1802.3,27.6 L1820.7,27.9 L1806.0,39.1 L1811.4,56.7 L1796.2,46.2 L1781.1,56.7 L1786.4,39.1 L1771.7,27.9 L1790.2,27.6Z M1738.9,450.2 L1744.9,467.7 L1763.4,468.0 L1748.7,479.2 L1754.0,496.8 L1738.9,486.3 L1723.7,496.8 L1729.1,479.2 L1714.4,468.0 L1732.8,467.7Z M1682.7,768.9 L1688.7,786.3 L1707.2,786.6 L1692.5,797.8 L1697.8,815.4 L1682.7,804.9 L1667.5,815.4 L1672.9,797.8 L1658.2,786.6 L1676.6,786.3Z M1627.6,998.2 L1633.7,1015.7 L1652.1,1016.0 L1637.4,1027.2 L1642.7,1044.8 L1627.6,1034.3 L1612.5,1044.8 L1617.8,1027.2 L1603.1,1016.0 L1621.6,1015.7Z M1573.7,1161.2 L1579.7,1178.7 L1598.1,1179.0 L1583.5,1190.2 L1588.8,1207.8 L1573.7,1197.3 L1558.5,1207.8 L1563.9,1190.2 L1549.2,1179.0 L1567.6,1178.7Z M1520.8,1276.2 L1526.8,1293.7 L1545.3,1294.0 L1530.6,1305.2 L1535.9,1322.8 L1520.8,1312.3 L1505.6,1322.8 L1511.0,1305.2 L1496.3,1294.0 L1514.7,1293.7Z M1468.9,1331.3 L1475.0,1348.7 L1493.4,1349.1 L1478.7,1360.3 L1484.1,1377.9 L1468.9,1367.4 L1453.8,1377.9 L1459.1,1360.3 L1444.4,1349.1 L1462.9,1348.7Z M1418.1,1371.2 L1424.1,1388.6 L1442.6,1389.0 L1427.9,1400.1 L1433.2,1417.8 L1418.1,1407.2 L1402.9,1417.8 L1408.3,1400.1 L1393.6,1389.0 L1412.0,1388.6Z M1368.2,1400.1 L1374.3,1417.6 L1392.7,1417.9 L1378.0,1429.1 L1383.3,1446.7 L1368.2,1436.2 L1353.1,1446.7 L1358.4,1429.1 L1343.7,1417.9 L1362.2,1417.6Z M1319.3,1423.5 L1325.4,1441.0 L1343.8,1441.3 L1329.1,1452.5 L1334.4,1470.1 L1319.3,1459.6 L1304.2,1470.1 L1309.5,1452.5 L1294.8,1441.3 L1313.2,1441.0Z M1271.3,1440.4 L1277.4,1457.9 L1295.8,1458.2 L1281.1,1469.4 L1286.4,1487.0 L1271.3,1476.5 L1256.2,1487.0 L1261.5,1469.4 L1246.8,1458.2 L1265.3,1457.9Z M1224.2,1451.1 L1230.3,1468.5 L1248.7,1468.9 L1234.0,1480.0 L1239.4,1497.7 L1224.2,1487.2 L1209.1,1497.7 L1214.4,1480.0 L1199.7,1468.9 L1218.2,1468.5Z M1178.0,1460.2 L1184.1,1477.7 L1202.5,1478.0 L1187.8,1489.2 L1193.1,1506.8 L1178.0,1496.3 L1162.9,1506.8 L1168.2,1489.2 L1153.5,1478.0 L1171.9,1477.7Z" fill="#666600" stroke="#666600" stroke-width="2.5" stroke-linejoin="round"/>
<path d="M1827.0,27.0 L1826.7,30.0 L1826.4,33.0 L1826.1,35.9 L1825.8,38.8 L1825.5,41.7 L1825.2,44.6 L1824.9,47.4 L1824.7,50.3 L1824.4,53.1 L1824.1,56.0 L1823.8,58.9 L1823.5,61.7 L1823.2,64.6 L1822.9,67.6 L1822.6,70.6 L1822.3,73.6 L1822.0,76.6 L1821.6,79.8 L1821.3,83.0 L1821.0,86.2 L1820.6,89.5 L1820.2,92.9 L1819.8,96.4 L1819.4,100.0 L1818.8,105.5 L1818.1,111.2 L1817.4,117.0 L1816.6,123.1 L1815.8,129.3 L1815.0,135.7 L1814.2,142.1 L1813.4,148.8 L1812.5,155.5 L1811.6,162.3 L1810.7,169.2 L1809.8,176.1 L1808.9,183.1 L1808.0,190.2 L1807.1,197.3 L1806.1,204.4 L1805.2,211.5 L1804.3,218.5 L1803.4,225.6 L1802.5,232.6 L1801.6,239.6 L1800.7,246.5 L1799.8,253.3 L1799.0,260.0 L1798.2,266.7 L1797.4,273.3 L1796.5,280.0 L1795.7,286.7 L1795.0,293.3 L1794.2,300.0 L1793.4,306.7 L1792.6,313.3 L1791.8,320.0 L1791.0,326.7 L1790.3,333.4 L1789.5,340.0 L1788.7,346.7 L1787.9,353.4 L1787.1,360.0 L1786.3,366.7 L1785.5,373.4 L1784.7,380.0 L1783.8,386.7 L1783.0,393.4 L1782.1,400.0 L1781.2,406.7 L1780.3,413.3 L1779.4,420.0 L1778.5,426.7 L1777.5,433.4 L1776.6,440.2 L1775.6,446.9 L1774.6,453.7 L1773.7,460.5 L1772.7,467.3 L1771.7,474.1 L1770.7,480.9 L1769.7,487.7 L1768.7,494.5 L1767.6,501.3 L1766.6,508.1 L1765.5,514.8 L1764.5,521.5 L1763.4,528.2 L1762.3,534.8 L1761.2,541.5 L1760.1,548.0 L1759.0,554.5 L1757.9,561.0 L1756.7,567.4 L1755.6,573.7 L1754.4,580.0 L1753.3,585.5 L1752.3,591.0 L1751.2,596.4 L1750.0,601.8 L1748.9,607.2 L1747.7,612.5 L1746.5,617.8 L1745.3,623.0 L1744.1,628.3 L1742.9,633.5 L1741.7,638.6 L1740.5,643.8 L1739.3,648.9 L1738.1,654.1 L1736.9,659.2 L1735.7,664.3 L1734.5,669.4 L1733.4,674.5 L1732.3,679.5 L1731.2,684.6 L1730.1,689.7 L1729.0,694.8 L1728.0,699.9 L1727.0,705.0 L1726.1,709.9 L1725.2,714.7 L1724.4,719.6 L1723.6,724.4 L1722.8,729.3 L1722.1,734.1 L1721.3,739.0 L1720.6,743.8 L1719.9,748.6 L1719.2,753.4 L1718.5,758.2 L1717.8,763.0 L1717.1,767.8 L1716.4,772.5 L1715.7,777.3 L1715.0,782.1 L1714.3,786.8 L1713.5,791.6 L1712.8,796.3 L1712.0,801.1 L1711.1,805.8 L1710.3,810.6 L1709.3,815.3 L1708.4,820.0 L1707.4,824.6 L1706.5,829.2 L1705.5,833.7 L1704.5,838.2 L1703.4,842.7 L1702.4,847.1 L1701.4,851.5 L1700.3,855.9 L1699.2,860.3 L1698.1,864.7 L1697.0,869.1 L1695.9,873.5 L1694.7,878.0 L1693.6,882.4 L1692.4,886.9 L1691.2,891.4 L1690.0,896.0 L1688.7,900.7 L1687.5,905.4 L1686.2,910.1 L1684.9,915.0 L1683.5,919.9 L1682.2,924.9 L1680.8,930.0 L1679.0,936.8 L1677.0,944.0 L1675.0,951.4 L1672.9,959.1 L1670.7,966.9 L1668.5,975.0 L1666.2,983.2 L1663.9,991.5 L1661.5,999.9 L1659.2,1008.3 L1656.8,1016.8 L1654.4,1025.2 L1652.0,1033.6 L1649.6,1041.9 L1647.2,1050.1 L1644.8,1058.1 L1642.5,1065.9 L1640.2,1073.6 L1638.0,1080.9 L1635.9,1088.0 L1633.8,1094.8 L1631.8,1101.3 L1629.8,1107.3 L1628.0,1113.0 L1627.0,1116.0 L1626.1,1118.9 L1625.2,1121.6 L1624.3,1124.2 L1623.4,1126.8 L1622.6,1129.2 L1621.8,1131.6 L1621.0,1133.8 L1620.3,1136.1 L1619.5,1138.3 L1618.7,1140.4 L1617.9,1142.5 L1617.2,1144.6 L1616.4,1146.7 L1615.6,1148.8 L1614.8,1151.0 L1613.9,1153.1 L1613.1,1155.3 L1612.2,1157.6 L1611.2,1159.9 L1610.2,1162.3 L1609.2,1164.8 L1608.1,1167.3 L1607.0,1170.0 L1605.3,1174.0 L1603.5,1178.1 L1601.6,1182.5 L1599.7,1186.9 L1597.6,1191.5 L1595.5,1196.3 L1593.4,1201.1 L1591.2,1206.0 L1588.9,1211.0 L1586.6,1216.0 L1584.2,1221.0 L1581.9,1226.0 L1579.5,1231.0 L1577.1,1236.0 L1574.7,1240.9 L1572.3,1245.8 L1569.9,1250.6 L1567.5,1255.2 L1565.2,1259.8 L1562.8,1264.2 L1560.6,1268.4 L1558.3,1272.5 L1556.1,1276.4 L1554.0,1280.0 L1552.6,1282.4 L1551.2,1284.6 L1549.8,1286.8 L1548.5,1288.9 L1547.1,1291.0 L1545.8,1293.0 L1544.4,1294.9 L1543.1,1296.8 L1541.8,1298.7 L1540.5,1300.5 L1539.2,1302.3 L1537.9,1304.0 L1536.6,1305.8 L1535.2,1307.5 L1533.9,1309.3 L1532.5,1311.0 L1531.2,1312.8 L1529.8,1314.6 L1528.4,1316.4 L1527.0,1318.2 L1525.5,1320.1 L1524.0,1322.0 L1522.5,1324.0 L1521.0,1326.0 L1519.1,1328.5 L1517.2,1331.2 L1515.3,1333.8 L1513.3,1336.6 L1511.3,1339.4 L1509.3,1342.3 L1507.3,1345.1 L1505.2,1348.1 L1503.1,1351.0 L1501.0,1353.9 L1498.9,1356.9 L1496.8,1359.8 L1494.6,1362.7 L1492.4,1365.6 L1490.2,1368.4 L1488.0,1371.2 L1485.8,1374.0 L1483.5,1376.7 L1481.3,1379.3 L1479.0,1381.8 L1476.7,1384.3 L1474.4,1386.6 L1472.0,1388.9 L1469.7,1391.0 L1467.7,1392.7 L1465.7,1394.4 L1463.6,1396.0 L1461.5,1397.6 L1459.4,1399.1 L1457.3,1400.5 L1455.2,1402.0 L1453.0,1403.3 L1450.9,1404.7 L1448.7,1406.0 L1446.6,1407.2 L1444.4,1408.5 L1442.2,1409.7 L1440.0,1410.9 L1437.8,1412.0 L1435.6,1413.2 L1433.4,1414.3 L1431.2,1415.4 L1429.0,1416.5 L1426.8,1417.6 L1424.6,1418.7 L1422.4,1419.8 L1420.2,1420.9 L1418.0,1422.0 L1415.9,1423.0 L1413.9,1424.1 L1411.8,1425.1 L1409.7,1426.0 L1407.6,1427.0 L1405.6,1428.0 L1403.5,1428.9 L1401.4,1429.8 L1399.3,1430.8 L1397.2,1431.7 L1395.1,1432.5 L1393.1,1433.4 L1391.0,1434.3 L1388.9,1435.1 L1386.8,1436.0 L1384.7,1436.8 L1382.6,1437.6 L1380.5,1438.4 L1378.4,1439.2 L1376.3,1440.0 L1374.3,1440.7 L1372.2,1441.5 L1370.1,1442.3 L1368.0,1443.0 L1366.0,1443.7 L1364.0,1444.4 L1362.0,1445.1 L1360.0,1445.7 L1358.0,1446.4 L1356.0,1447.0 L1354.0,1447.7 L1352.0,1448.3 L1350.0,1448.9 L1348.0,1449.5 L1346.0,1450.1 L1344.0,1450.7 L1342.0,1451.3 L1340.0,1451.8 L1338.0,1452.4 L1336.0,1452.9 L1334.0,1453.5 L1332.0,1454.0 L1330.0,1454.5 L1328.0,1455.0 L1326.0,1455.5 L1324.0,1456.0 L1322.0,1456.5 L1320.0,1457.0 L1318.0,1457.5 L1316.0,1457.9 L1314.0,1458.4 L1312.0,1458.8 L1310.0,1459.2 L1308.0,1459.7 L1306.0,1460.1 L1304.0,1460.5 L1302.0,1460.9 L1300.0,1461.2 L1298.0,1461.6 L1296.0,1462.0 L1294.0,1462.3 L1292.0,1462.7 L1290.0,1463.1 L1288.0,1463.4 L1286.0,1463.7 L1284.0,1464.1 L1282.0,1464.4 L1280.0,1464.7 L1278.0,1465.0 L1276.0,1465.4 L1274.0,1465.7 L1272.0,1466.0 L1270.0,1466.3 L1268.0,1466.6 L1266.1,1466.9 L1264.1,1467.2 L1262.0,1467.5 L1260.0,1467.7 L1258.0,1468.0 L1256.0,1468.3 L1254.0,1468.5 L1252.0,1468.8 L1250.0,1469.0 L1248.0,1469.3 L1246.0,1469.5 L1244.0,1469.7 L1242.0,1470.0 L1240.0,1470.2 L1238.1,1470.4 L1236.2,1470.7 L1234.2,1470.9 L1232.4,1471.1 L1230.5,1471.3 L1228.6,1471.6 L1226.8,1471.8 L1225.0,1472.0 L1223.5,1472.2 L1222.1,1472.4 L1220.6,1472.6 L1219.2,1472.7 L1217.8,1472.9 L1216.5,1473.1 L1215.1,1473.3 L1213.7,1473.5 L1212.4,1473.6 L1211.1,1473.8 L1209.8,1474.0 L1208.4,1474.2 L1207.1,1474.3 L1205.8,1474.5 L1204.5,1474.7 L1203.1,1474.8 L1201.8,1475.0 L1200.5,1475.1 L1199.1,1475.3 L1197.7,1475.4 L1196.3,1475.6 L1194.9,1475.7 L1193.5,1475.9 L1192.0,1476.0 L1190.3,1476.1 L1188.5,1476.3 L1186.8,1476.4 L1185.0,1476.5 L1183.1,1476.7 L1181.3,1476.8 L1179.4,1476.9 L1177.6,1477.0 L1175.7,1477.1 L1173.8,1477.2 L1171.9,1477.3 L1170.0,1477.4 L1168.1,1477.5 L1166.2,1477.5 L1164.3,1477.6 L1162.4,1477.7 L1160.6,1477.8 L1158.7,1477.9 L1156.9,1478.0 L1155.0,1478.1 L1153.2,1478.2 L1151.5,1478.3 L1149.7,1478.4 L1148.0,1478.5 L1146.5,1478.6 L1145.1,1478.7 L1143.7,1478.8 L1142.3,1478.9 L1140.9,1479.0 L1139.6,1479.1 L1138.2,1479.2 L1136.9,1479.3 L1135.6,1479.4 L1134.2,1479.5 L1132.9,1479.6 L1131.6,1479.7 L1130.3,1479.8 L1129.0,1479.9 L1127.6,1480.1 L1126.3,1480.2 L1125.0,1480.3 L1123.6,1480.4 L1122.2,1480.5 L1120.8,1480.6 L1119.4,1480.7 L1118.0,1480.8 L1116.5,1480.9 L1115.0,1481.0 L1113.1,1481.1 L1111.3,1481.2 L1109.4,1481.4 L1107.5,1481.5 L1105.5,1481.6 L1103.6,1481.7 L1101.6,1481.8 L1099.7,1482.0 L1097.7,1482.1 L1095.6,1482.2 L1093.6,1482.3 L1091.6,1482.4 L1089.5,1482.5 L1087.4,1482.7 L1085.3,1482.8 L1083.2,1482.9 L1081.1,1483.0 L1079.0,1483.2 L1076.8,1483.3 L1074.7,1483.4 L1072.5,1483.6 L1070.4,1483.7 L1068.2,1483.9 L1066.0,1484.0 L1063.4,1484.2 L1060.8,1484.4 L1058.2,1484.6 L1055.5,1484.8 L1052.7,1485.0 L1050.0,1485.2 L1047.2,1485.4 L1044.4,1485.6 L1041.6,1485.8 L1038.7,1486.1 L1035.9,1486.3 L1033.0,1486.5 L1030.2,1486.7 L1027.3,1487.0 L1024.5,1487.2 L1021.7,1487.4 L1018.9,1487.6 L1016.1,1487.8 L1013.3,1488.0 L1010.6,1488.2 L1007.9,1488.4 L1005.2,1488.6 L1002.6,1488.8 L1000.0,1489.0 L997.8,1489.1 L995.6,1489.3 L993.5,1489.4 L991.4,1489.6 L989.3,1489.7 L987.3,1489.8 L985.3,1490.0 L983.3,1490.1 L981.3,1490.2 L979.3,1490.3 L977.3,1490.5 L975.3,1490.6 L973.3,1490.7 L971.3,1490.8 L969.3,1490.9 L967.3,1491.1 L965.2,1491.2 L963.2,1491.3 L961.1,1491.4 L958.9,1491.5 L956.8,1491.6 L954.6,1491.8 L952.3,1491.9 L950.0,1492.0 L947.0,1492.2 L944.0,1492.3 L940.9,1492.5 L937.7,1492.6 L934.5,1492.8 L931.2,1492.9 L927.9,1493.1 L924.5,1493.3 L921.1,1493.4 L917.7,1493.6 L914.3,1493.7 L910.8,1493.9 L907.4,1494.0 L903.9,1494.2 L900.4,1494.3 L897.0,1494.5 L893.5,1494.6 L890.1,1494.8 L886.6,1494.9 L883.2,1495.1 L879.9,1495.2 L876.5,1495.3 L873.2,1495.5 L870.0,1495.6 L867.0,1495.7 L864.0,1495.8 L861.1,1496.0 L858.2,1496.1 L855.3,1496.2 L852.5,1496.3 L849.6,1496.4 L846.8,1496.5 L844.0,1496.6 L841.1,1496.7 L838.3,1496.8 L835.5,1496.9 L832.7,1497.0 L829.8,1497.1 L827.0,1497.2 L824.1,1497.3 L821.2,1497.4 L818.3,1497.5 L815.3,1497.6 L812.3,1497.7 L809.3,1497.8 L806.3,1497.8 L803.2,1497.9 L800.0,1498.0 L796.2,1498.1 L792.4,1498.2 L788.6,1498.3 L784.8,1498.3 L781.0,1498.4 L777.2,1498.5 L773.3,1498.6 L769.4,1498.6 L765.5,1498.7 L761.6,1498.8 L757.6,1498.8 L753.5,1498.9 L749.4,1499.0 L745.3,1499.0 L741.1,1499.1 L736.9,1499.1 L732.5,1499.2 L728.1,1499.2 L723.7,1499.3 L719.1,1499.3 L714.5,1499.4 L709.7,1499.4 L704.9,1499.5 L700.0,1499.5 L692.5,1499.6 L684.7,1499.6 L676.7,1499.7 L668.4,1499.7 L659.9,1499.7 L651.2,1499.8 L642.3,1499.8 L633.3,1499.8 L624.1,1499.8 L614.8,1499.9 L605.3,1499.9 L595.8,1499.9 L586.2,1499.9 L576.5,1499.9 L566.8,1499.9 L557.1,1499.9 L547.4,1499.9 L537.7,1499.9 L528.1,1499.9 L518.5,1499.9 L509.0,1500.0 L499.5,1500.0 L490.2,1500.0 L481.0,1500.0" fill="none" stroke="#80c81a" stroke-width="10" stroke-linejoin="round"/>
<path d="M1796.2,270.6 L1802.3,288.0 L1820.7,288.3 L1806.0,299.5 L1811.4,317.1 L1796.2,306.6 L1781.1,317.1 L1786.4,299.5 L1771.7,288.3 L1790.2,288.0Z M1738.9,641.2 L1744.9,658.7 L1763.4,659.0 L1748.7,670.2 L1754.0,687.8 L1738.9,677.3 L1723.7,687.8 L1729.1,670.2 L1714.4,659.0 L1732.8,658.7Z M1682.7,899.2 L1688.7,916.7 L1707.2,917.0 L1692.5,928.2 L1697.8,945.8 L1682.7,935.3 L1667.5,945.8 L1672.9,928.2 L1658.2,917.0 L1676.6,916.7Z M1627.6,1093.4 L1633.7,1110.8 L1652.1,1111.2 L1637.4,1122.4 L1642.7,1140.0 L1627.6,1129.5 L1612.5,1140.0 L1617.8,1122.4 L1603.1,1111.2 L1621.6,1110.8Z M1573.7,1222.3 L1579.7,1239.7 L1598.1,1240.1 L1583.5,1251.2 L1588.8,1268.8 L1573.7,1258.3 L1558.5,1268.8 L1563.9,1251.2 L1549.2,1240.1 L1567.6,1239.7Z M1520.8,1305.6 L1526.8,1323.0 L1545.3,1323.4 L1530.6,1334.5 L1535.9,1352.1 L1520.8,1341.6 L1505.6,1352.1 L1511.0,1334.5 L1496.3,1323.4 L1514.7,1323.0Z M1468.9,1370.9 L1475.0,1388.3 L1493.4,1388.7 L1478.7,1399.9 L1484.1,1417.5 L1468.9,1407.0 L1453.8,1417.5 L1459.1,1399.9 L1444.4,1388.7 L1462.9,1388.3Z M1418.1,1401.2 L1424.1,1418.6 L1442.6,1419.0 L1427.9,1430.1 L1433.2,1447.8 L1418.1,1437.3 L1402.9,1447.8 L1408.3,1430.1 L1393.6,1419.0 L1412.0,1418.6Z M1368.2,1422.2 L1374.3,1439.6 L1392.7,1440.0 L1378.0,1451.1 L1383.3,1468.8 L1368.2,1458.2 L1353.1,1468.8 L1358.4,1451.1 L1343.7,1440.0 L1362.2,1439.6Z M1319.3,1436.4 L1325.4,1453.8 L1343.8,1454.2 L1329.1,1465.3 L1334.4,1483.0 L1319.3,1472.5 L1304.2,1483.0 L1309.5,1465.3 L1294.8,1454.2 L1313.2,1453.8Z M1271.3,1445.4 L1277.4,1462.8 L1295.8,1463.1 L1281.1,1474.3 L1286.4,1491.9 L1271.3,1481.4 L1256.2,1491.9 L1261.5,1474.3 L1246.8,1463.1 L1265.3,1462.8Z M1224.2,1451.3 L1230.3,1468.8 L1248.7,1469.1 L1234.0,1480.3 L1239.4,1497.9 L1224.2,1487.4 L1209.1,1497.9 L1214.4,1480.3 L1199.7,1469.1 L1218.2,1468.8Z M1178.0,1456.2 L1184.1,1473.6 L1202.5,1474.0 L1187.8,1485.1 L1193.1,1502.8 L1178.0,1492.3 L1162.9,1502.8 L1168.2,1485.1 L1153.5,1474.0 L1171.9,1473.6Z M1132.6,1458.9 L1138.7,1476.3 L1157.1,1476.7 L1142.4,1487.8 L1147.8,1505.5 L1132.6,1495.0 L1117.5,1505.5 L1122.8,1487.8 L1108.1,1476.7 L1126.6,1476.3Z M1088.1,1461.9 L1094.1,1479.3 L1112.6,1479.7 L1097.9,1490.8 L1103.2,1508.5 L1088.1,1497.9 L1073.0,1508.5 L1078.3,1490.8 L1063.6,1479.7 L1082.0,1479.3Z M1044.3,1464.9 L1050.4,1482.3 L1068.8,1482.7 L1054.1,1493.8 L1059.5,1511.4 L1044.3,1500.9 L1029.2,1511.4 L1034.6,1493.8 L1019.9,1482.7 L1038.3,1482.3Z M1001.4,1468.2 L1007.4,1485.6 L1025.9,1485.9 L1011.2,1497.1 L1016.5,1514.7 L1001.4,1504.2 L986.3,1514.7 L991.6,1497.1 L976.9,1485.9 L995.3,1485.6Z M959.2,1470.8 L965.2,1488.2 L983.7,1488.6 L969.0,1499.7 L974.3,1517.3 L959.2,1506.8 L944.1,1517.3 L949.4,1499.7 L934.7,1488.6 L953.1,1488.2Z M917.7,1472.8 L923.8,1490.2 L942.2,1490.6 L927.5,1501.8 L932.9,1519.4 L917.7,1508.9 L902.6,1519.4 L907.9,1501.8 L893.2,1490.6 L911.7,1490.2Z M877.0,1474.6 L883.0,1492.0 L901.5,1492.4 L886.8,1503.5 L892.1,1521.2 L877.0,1510.6 L861.9,1521.2 L867.2,1503.5 L852.5,1492.4 L870.9,1492.0Z M837.0,1476.1 L843.0,1493.5 L861.5,1493.9 L846.8,1505.1 L852.1,1522.7 L837.0,1512.2 L821.8,1522.7 L827.2,1505.1 L812.5,1493.9 L830.9,1493.5Z M797.6,1477.3 L803.7,1494.7 L822.1,1495.1 L807.4,1506.2 L812.7,1523.9 L797.6,1513.4 L782.5,1523.9 L787.8,1506.2 L773.1,1495.1 L791.6,1494.7Z M758.9,1478.1 L765.0,1495.5 L783.4,1495.9 L768.7,1507.0 L774.1,1524.7 L758.9,1514.1 L743.8,1524.7 L749.1,1507.0 L734.4,1495.9 L752.9,1495.5Z M720.9,1478.6 L727.0,1496.0 L745.4,1496.3 L730.7,1507.5 L736.0,1525.1 L720.9,1514.6 L705.8,1525.1 L711.1,1507.5 L696.4,1496.3 L714.8,1496.0Z M683.5,1478.9 L689.6,1496.3 L708.0,1496.7 L693.3,1507.8 L698.6,1525.5 L683.5,1514.9 L668.4,1525.5 L673.7,1507.8 L659.0,1496.7 L677.4,1496.3Z M646.7,1479.0 L652.8,1496.4 L671.2,1496.8 L656.5,1508.0 L661.9,1525.6 L646.7,1515.1 L631.6,1525.6 L636.9,1508.0 L622.2,1496.8 L640.7,1496.4Z M610.6,1479.1 L616.6,1496.5 L635.0,1496.9 L620.3,1508.0 L625.7,1525.7 L610.6,1515.2 L595.4,1525.7 L600.8,1508.0 L586.1,1496.9 L604.5,1496.5Z M575.0,1479.1 L581.0,1496.6 L599.5,1496.9 L584.8,1508.1 L590.1,1525.7 L575.0,1515.2 L559.8,1525.7 L565.2,1508.1 L550.5,1496.9 L568.9,1496.6Z M540.0,1479.2 L546.0,1496.6 L564.4,1497.0 L549.7,1508.1 L555.1,1525.8 L540.0,1515.2 L524.8,1525.8 L530.2,1508.1 L515.5,1497.0 L533.9,1496.6Z M505.5,1479.2 L511.6,1496.6 L530.0,1497.0 L515.3,1508.1 L520.6,1525.8 L505.5,1515.3 L490.4,1525.8 L495.7,1508.1 L481.0,1497.0 L499.4,1496.6Z" fill="#80c81a" stroke="#80c81a" stroke-width="2.5" stroke-linejoin="round"/>
<path d="M1836.5,27.0 L1836.3,30.0 L1836.1,33.0 L1835.9,35.9 L1835.8,38.8 L1835.6,41.7 L1835.4,44.6 L1835.3,47.5 L1835.1,50.3 L1835.0,53.1 L1834.8,56.0 L1834.7,58.9 L1834.5,61.8 L1834.4,64.7 L1834.2,67.6 L1834.0,70.6 L1833.8,73.6 L1833.6,76.7 L1833.3,79.8 L1833.1,83.0 L1832.8,86.2 L1832.5,89.5 L1832.2,92.9 L1831.9,96.4 L1831.5,100.0 L1830.9,105.5 L1830.2,111.2 L1829.5,117.1 L1828.7,123.1 L1827.9,129.3 L1827.0,135.7 L1826.1,142.2 L1825.2,148.8 L1824.2,155.5 L1823.2,162.3 L1822.1,169.2 L1821.1,176.1 L1820.0,183.2 L1818.9,190.2 L1817.9,197.3 L1816.8,204.4 L1815.7,211.5 L1814.6,218.5 L1813.6,225.6 L1812.5,232.6 L1811.5,239.6 L1810.5,246.5 L1809.5,253.3 L1808.6,260.0 L1807.7,266.7 L1806.8,273.3 L1805.9,280.0 L1805.0,286.7 L1804.2,293.3 L1803.3,300.0 L1802.5,306.7 L1801.6,313.3 L1800.8,320.0 L1799.9,326.7 L1799.1,333.3 L1798.3,340.0 L1797.4,346.7 L1796.6,353.4 L1795.7,360.0 L1794.9,366.7 L1794.0,373.4 L1793.1,380.0 L1792.2,386.7 L1791.3,393.4 L1790.4,400.0 L1789.5,406.7 L1788.6,413.3 L1787.6,420.0 L1786.6,426.7 L1785.6,433.4 L1784.7,440.2 L1783.7,446.9 L1782.7,453.7 L1781.7,460.5 L1780.7,467.3 L1779.7,474.1 L1778.7,480.9 L1777.6,487.7 L1776.6,494.5 L1775.5,501.3 L1774.5,508.1 L1773.4,514.8 L1772.3,521.5 L1771.3,528.2 L1770.1,534.9 L1769.0,541.5 L1767.9,548.0 L1766.7,554.5 L1765.6,561.0 L1764.4,567.4 L1763.2,573.7 L1762.0,580.0 L1760.9,585.5 L1759.8,591.0 L1758.6,596.4 L1757.4,601.8 L1756.2,607.2 L1754.9,612.5 L1753.7,617.8 L1752.4,623.0 L1751.1,628.3 L1749.9,633.5 L1748.6,638.6 L1747.3,643.8 L1746.0,648.9 L1744.7,654.1 L1743.5,659.2 L1742.2,664.3 L1741.0,669.4 L1739.7,674.4 L1738.5,679.5 L1737.4,684.6 L1736.2,689.7 L1735.1,694.8 L1734.0,699.9 L1733.0,705.0 L1732.1,709.9 L1731.2,714.7 L1730.3,719.5 L1729.5,724.3 L1728.7,729.0 L1727.9,733.8 L1727.1,738.5 L1726.4,743.2 L1725.7,748.0 L1725.0,752.7 L1724.3,757.4 L1723.6,762.1 L1722.9,766.8 L1722.2,771.5 L1721.4,776.3 L1720.7,781.0 L1720.0,785.8 L1719.2,790.6 L1718.4,795.4 L1717.6,800.3 L1716.8,805.1 L1715.9,810.1 L1715.0,815.0 L1714.0,820.0 L1712.9,825.6 L1711.7,831.3 L1710.5,837.1 L1709.3,842.9 L1708.1,848.9 L1706.8,854.8 L1705.5,860.8 L1704.1,866.9 L1702.8,872.9 L1701.4,879.0 L1700.0,885.1 L1698.6,891.2 L1697.2,897.2 L1695.8,903.3 L1694.4,909.2 L1693.0,915.2 L1691.6,921.1 L1690.1,926.9 L1688.7,932.7 L1687.3,938.3 L1685.9,943.9 L1684.5,949.4 L1683.2,954.8 L1681.8,960.0 L1680.7,964.1 L1679.7,968.2 L1678.6,972.2 L1677.6,976.1 L1676.5,979.9 L1675.5,983.7 L1674.5,987.4 L1673.4,991.1 L1672.4,994.7 L1671.4,998.4 L1670.4,1002.0 L1669.3,1005.5 L1668.3,1009.1 L1667.2,1012.7 L1666.2,1016.3 L1665.1,1019.9 L1664.0,1023.5 L1662.9,1027.1 L1661.7,1030.8 L1660.6,1034.5 L1659.4,1038.3 L1658.2,1042.1 L1657.0,1046.0 L1655.7,1050.0 L1654.2,1054.7 L1652.7,1059.5 L1651.1,1064.3 L1649.5,1069.1 L1647.9,1074.1 L1646.3,1079.0 L1644.7,1084.0 L1643.0,1089.1 L1641.3,1094.1 L1639.6,1099.2 L1637.9,1104.3 L1636.1,1109.5 L1634.4,1114.6 L1632.6,1119.7 L1630.8,1124.8 L1628.9,1130.0 L1627.1,1135.1 L1625.2,1140.2 L1623.3,1145.2 L1621.4,1150.3 L1619.5,1155.3 L1617.5,1160.2 L1615.6,1165.1 L1613.6,1170.0 L1611.6,1174.7 L1609.6,1179.5 L1607.6,1184.3 L1605.5,1189.1 L1603.4,1193.9 L1601.3,1198.7 L1599.1,1203.5 L1597.0,1208.3 L1594.8,1213.1 L1592.6,1217.9 L1590.4,1222.6 L1588.1,1227.4 L1585.9,1232.0 L1583.7,1236.7 L1581.4,1241.3 L1579.2,1245.9 L1576.9,1250.4 L1574.7,1254.8 L1572.4,1259.2 L1570.2,1263.5 L1568.0,1267.8 L1565.8,1271.9 L1563.7,1276.0 L1561.5,1280.0 L1559.8,1283.1 L1558.1,1286.2 L1556.5,1289.2 L1554.8,1292.2 L1553.2,1295.2 L1551.6,1298.1 L1550.0,1301.0 L1548.4,1303.8 L1546.8,1306.6 L1545.2,1309.4 L1543.6,1312.2 L1541.9,1314.9 L1540.3,1317.6 L1538.7,1320.3 L1537.0,1322.9 L1535.3,1325.5 L1533.7,1328.1 L1531.9,1330.7 L1530.2,1333.3 L1528.4,1335.9 L1526.6,1338.4 L1524.8,1340.9 L1522.9,1343.5 L1521.0,1346.0 L1519.1,1348.5 L1517.1,1350.9 L1515.2,1353.3 L1513.1,1355.7 L1511.1,1358.1 L1509.0,1360.4 L1506.9,1362.7 L1504.8,1365.0 L1502.7,1367.3 L1500.6,1369.6 L1498.4,1371.8 L1496.2,1374.1 L1494.0,1376.3 L1491.8,1378.5 L1489.6,1380.7 L1487.4,1382.9 L1485.2,1385.0 L1483.0,1387.2 L1480.7,1389.3 L1478.5,1391.5 L1476.3,1393.6 L1474.1,1395.8 L1471.9,1397.9 L1469.7,1400.0 L1467.6,1402.1 L1465.4,1404.1 L1463.2,1406.2 L1461.0,1408.3 L1458.7,1410.4 L1456.5,1412.5 L1454.2,1414.6 L1451.9,1416.7 L1449.6,1418.7 L1447.3,1420.8 L1445.0,1422.8 L1442.8,1424.9 L1440.5,1426.9 L1438.3,1428.8 L1436.1,1430.8 L1433.9,1432.7 L1431.7,1434.5 L1429.6,1436.3 L1427.5,1438.1 L1425.5,1439.8 L1423.6,1441.4 L1421.6,1443.0 L1419.8,1444.5 L1418.0,1446.0 L1416.9,1446.9 L1415.8,1447.8 L1414.7,1448.6 L1413.6,1449.4 L1412.6,1450.2 L1411.5,1450.9 L1410.5,1451.7 L1409.5,1452.4 L1408.5,1453.1 L1407.5,1453.8 L1406.6,1454.4 L1405.6,1455.1 L1404.7,1455.7 L1403.8,1456.4 L1402.8,1457.0 L1401.9,1457.7 L1401.0,1458.3 L1400.1,1458.9 L1399.3,1459.6 L1398.4,1460.3 L1397.5,1460.9 L1396.7,1461.6 L1395.8,1462.3 L1395.0,1463.0 L1394.3,1463.6 L1393.6,1464.2 L1392.9,1464.9 L1392.2,1465.5 L1391.6,1466.1 L1390.9,1466.8 L1390.3,1467.4 L1389.7,1468.1 L1389.0,1468.7 L1388.4,1469.3 L1387.8,1470.0 L1387.2,1470.6 L1386.6,1471.3 L1386.0,1471.9 L1385.4,1472.5 L1384.8,1473.2 L1384.2,1473.8 L1383.6,1474.4 L1383.0,1475.0 L1382.4,1475.6 L1381.8,1476.2 L1381.2,1476.8 L1380.6,1477.4 L1380.0,1478.0 L1379.4,1478.5 L1378.9,1479.1 L1378.3,1479.6 L1377.7,1480.2 L1377.2,1480.8 L1376.6,1481.3 L1376.1,1481.9 L1375.5,1482.4 L1375.0,1483.0 L1374.4,1483.5 L1373.9,1484.1 L1373.3,1484.6 L1372.8,1485.1 L1372.2,1485.7 L1371.6,1486.2 L1371.1,1486.7 L1370.5,1487.1 L1369.9,1487.6 L1369.3,1488.1 L1368.6,1488.5 L1368.0,1488.9 L1367.4,1489.3 L1366.7,1489.7 L1366.0,1490.0 L1365.2,1490.3 L1364.5,1490.7 L1363.7,1491.0 L1362.9,1491.2 L1362.1,1491.5 L1361.2,1491.7 L1360.4,1491.9 L1359.5,1492.1 L1358.7,1492.3 L1357.8,1492.5 L1356.9,1492.6 L1356.0,1492.8 L1355.1,1492.9 L1354.2,1493.0 L1353.3,1493.1 L1352.4,1493.2 L1351.5,1493.3 L1350.5,1493.4 L1349.6,1493.5 L1348.7,1493.6 L1347.8,1493.7 L1346.8,1493.8 L1345.9,1493.9 L1345.0,1494.0 L1344.0,1494.1 L1343.0,1494.2 L1342.0,1494.3 L1341.1,1494.4 L1340.1,1494.4 L1339.1,1494.5 L1338.1,1494.6 L1337.1,1494.6 L1336.2,1494.7 L1335.2,1494.7 L1334.2,1494.7 L1333.2,1494.8 L1332.1,1494.8 L1331.1,1494.8 L1330.1,1494.8 L1329.0,1494.9 L1328.0,1494.9 L1326.9,1494.9 L1325.8,1494.9 L1324.7,1494.9 L1323.5,1494.9 L1322.4,1495.0 L1321.2,1495.0 L1320.0,1495.0 L1318.3,1495.0 L1316.5,1495.0 L1314.7,1495.0 L1312.9,1495.0 L1311.0,1495.0 L1309.1,1495.0 L1307.1,1495.0 L1305.1,1494.9 L1303.1,1494.9 L1301.1,1494.9 L1299.0,1494.8 L1296.9,1494.8 L1294.8,1494.8 L1292.7,1494.7 L1290.6,1494.7 L1288.5,1494.7 L1286.4,1494.7 L1284.3,1494.7 L1282.2,1494.7 L1280.1,1494.7 L1278.1,1494.8 L1276.0,1494.8 L1274.0,1494.9 L1272.0,1495.0 L1270.0,1495.1 L1268.1,1495.2 L1266.2,1495.4 L1264.3,1495.5 L1262.4,1495.7 L1260.5,1495.9 L1258.6,1496.1 L1256.7,1496.3 L1254.8,1496.5 L1252.9,1496.7 L1251.0,1496.9 L1249.1,1497.1 L1247.2,1497.3 L1245.3,1497.6 L1243.4,1497.8 L1241.5,1498.1 L1239.5,1498.3 L1237.5,1498.6 L1235.5,1498.8 L1233.5,1499.0 L1231.4,1499.3 L1229.3,1499.5 L1227.2,1499.8 L1225.0,1500.0 L1222.3,1500.3 L1219.6,1500.6 L1217.0,1500.9 L1214.4,1501.3 L1211.8,1501.6 L1209.2,1502.0 L1206.7,1502.3 L1204.1,1502.7 L1201.5,1503.0 L1198.8,1503.4 L1196.1,1503.7 L1193.3,1504.1 L1190.4,1504.5 L1187.5,1504.8 L1184.4,1505.2 L1181.2,1505.5 L1177.9,1505.9 L1174.5,1506.2 L1170.8,1506.5 L1167.1,1506.9 L1163.1,1507.2 L1158.9,1507.5 L1154.6,1507.7 L1150.0,1508.0 L1134.9,1508.7 L1117.6,1509.3 L1098.2,1509.8 L1077.0,1510.2 L1054.1,1510.6 L1029.5,1510.8 L1003.5,1511.0 L976.2,1511.1 L947.7,1511.1 L918.2,1511.2 L887.9,1511.1 L856.8,1511.0 L825.1,1510.9 L793.0,1510.8 L760.6,1510.7 L728.1,1510.5 L695.6,1510.4 L663.2,1510.3 L631.1,1510.1 L599.4,1510.0 L568.3,1510.0 L538.0,1509.9 L508.5,1509.9 L480.0,1510.0" fill="none" stroke="#eb6400" stroke-width="10" stroke-linejoin="round"/>
<path d="M1796.2,314.1 L1802.3,331.6 L1820.7,331.9 L1806.0,343.1 L1811.4,360.7 L1796.2,350.2 L1781.1,360.7 L1786.4,343.1 L1771.7,331.9 L1790.2,331.6Z M1738.9,665.2 L1744.9,682.7 L1763.4,683.0 L1748.7,694.2 L1754.0,711.8 L1738.9,701.3 L1723.7,711.8 L1729.1,694.2 L1714.4,683.0 L1732.8,682.7Z M1682.7,935.9 L1688.7,953.3 L1707.2,953.7 L1692.5,964.8 L1697.8,982.5 L1682.7,971.9 L1667.5,982.5 L1672.9,964.8 L1658.2,953.7 L1676.6,953.3Z M1627.6,1101.2 L1633.7,1118.7 L1652.1,1119.0 L1637.4,1130.2 L1642.7,1147.8 L1627.6,1137.3 L1612.5,1147.8 L1617.8,1130.2 L1603.1,1119.0 L1621.6,1118.7Z M1573.7,1236.1 L1579.7,1253.5 L1598.1,1253.8 L1583.5,1265.0 L1588.8,1282.6 L1573.7,1272.1 L1558.5,1282.6 L1563.9,1265.0 L1549.2,1253.8 L1567.6,1253.5Z M1520.8,1325.5 L1526.8,1343.0 L1545.3,1343.3 L1530.6,1354.5 L1535.9,1372.1 L1520.8,1361.6 L1505.6,1372.1 L1511.0,1354.5 L1496.3,1343.3 L1514.7,1343.0Z M1468.9,1380.0 L1475.0,1397.4 L1493.4,1397.8 L1478.7,1408.9 L1484.1,1426.6 L1468.9,1416.1 L1453.8,1426.6 L1459.1,1408.9 L1444.4,1397.8 L1462.9,1397.4Z M1418.1,1425.2 L1424.1,1442.6 L1442.6,1443.0 L1427.9,1454.1 L1433.2,1471.8 L1418.1,1461.2 L1402.9,1471.8 L1408.3,1454.1 L1393.6,1443.0 L1412.0,1442.6Z M1368.2,1468.0 L1374.3,1485.4 L1392.7,1485.8 L1378.0,1496.9 L1383.3,1514.6 L1368.2,1504.1 L1353.1,1514.6 L1358.4,1496.9 L1343.7,1485.8 L1362.2,1485.4Z M1319.3,1474.3 L1325.4,1491.7 L1343.8,1492.1 L1329.1,1503.2 L1334.4,1520.8 L1319.3,1510.3 L1304.2,1520.8 L1309.5,1503.2 L1294.8,1492.1 L1313.2,1491.7Z" fill="#eb6400" stroke="#eb6400" stroke-width="2.5" stroke-linejoin="round"/>
<path d="M1577.4,27.0 L1577.2,28.2 L1577.1,29.3 L1576.9,30.4 L1576.8,31.5 L1576.7,32.5 L1576.5,33.5 L1576.4,34.5 L1576.3,35.4 L1576.1,36.4 L1576.0,37.4 L1575.9,38.4 L1575.7,39.4 L1575.6,40.5 L1575.4,41.6 L1575.3,42.7 L1575.1,43.9 L1575.0,45.1 L1574.8,46.4 L1574.6,47.8 L1574.4,49.3 L1574.2,50.8 L1574.0,52.4 L1573.7,54.2 L1573.5,56.0 L1572.5,63.6 L1571.3,72.7 L1569.9,83.1 L1568.4,94.8 L1566.7,107.7 L1564.9,121.6 L1563.0,136.5 L1560.9,152.2 L1558.7,168.6 L1556.5,185.7 L1554.2,203.4 L1551.8,221.5 L1549.3,239.9 L1546.8,258.5 L1544.3,277.3 L1541.7,296.1 L1539.2,314.8 L1536.6,333.4 L1534.0,351.7 L1531.5,369.5 L1529.0,386.9 L1526.5,403.8 L1524.1,419.9 L1521.8,435.2 L1519.7,448.5 L1517.6,461.8 L1515.5,475.1 L1513.4,488.3 L1511.2,501.5 L1509.1,514.6 L1507.0,527.6 L1504.8,540.6 L1502.6,553.6 L1500.5,566.5 L1498.3,579.3 L1496.1,592.0 L1493.9,604.7 L1491.7,617.3 L1489.4,629.8 L1487.2,642.2 L1484.9,654.5 L1482.7,666.8 L1480.4,678.9 L1478.1,690.9 L1475.8,702.9 L1473.5,714.7 L1471.2,726.4 L1468.9,738.0 L1466.9,747.8 L1464.9,757.5 L1463.0,767.2 L1461.0,776.8 L1459.0,786.3 L1457.0,795.8 L1455.0,805.2 L1453.0,814.5 L1451.0,823.8 L1449.0,833.0 L1446.9,842.2 L1444.9,851.2 L1442.9,860.3 L1440.8,869.2 L1438.7,878.1 L1436.6,886.9 L1434.5,895.7 L1432.4,904.3 L1430.2,913.0 L1428.1,921.5 L1425.9,930.0 L1423.7,938.4 L1421.5,946.7 L1419.2,955.0 L1417.3,962.0 L1415.3,969.0 L1413.3,975.9 L1411.3,982.7 L1409.3,989.5 L1407.3,996.2 L1405.3,1002.9 L1403.2,1009.5 L1401.2,1016.1 L1399.1,1022.6 L1397.0,1029.1 L1394.9,1035.6 L1392.8,1042.0 L1390.7,1048.3 L1388.6,1054.6 L1386.5,1060.9 L1384.4,1067.2 L1382.2,1073.4 L1380.1,1079.6 L1377.9,1085.7 L1375.7,1091.8 L1373.6,1097.9 L1371.4,1104.0 L1369.2,1110.0 L1367.2,1115.4 L1365.3,1120.7 L1363.3,1126.1 L1361.3,1131.4 L1359.4,1136.7 L1357.4,1141.9 L1355.4,1147.2 L1353.4,1152.4 L1351.4,1157.5 L1349.4,1162.7 L1347.3,1167.8 L1345.3,1172.9 L1343.3,1177.9 L1341.2,1182.9 L1339.2,1187.9 L1337.1,1192.9 L1335.0,1197.8 L1333.0,1202.6 L1330.9,1207.5 L1328.8,1212.3 L1326.6,1217.0 L1324.5,1221.7 L1322.4,1226.4 L1320.2,1231.0 L1318.3,1235.0 L1316.4,1239.1 L1314.5,1243.1 L1312.6,1247.1 L1310.7,1251.1 L1308.7,1255.0 L1306.8,1259.0 L1304.9,1262.9 L1302.9,1266.7 L1301.0,1270.6 L1299.0,1274.4 L1297.0,1278.2 L1295.1,1281.9 L1293.1,1285.6 L1291.0,1289.3 L1289.0,1292.9 L1287.0,1296.5 L1284.9,1300.0 L1282.9,1303.5 L1280.8,1306.9 L1278.7,1310.3 L1276.5,1313.6 L1274.4,1316.8 L1272.2,1320.0 L1270.3,1322.6 L1268.5,1325.2 L1266.6,1327.8 L1264.7,1330.3 L1262.8,1332.7 L1260.8,1335.2 L1258.9,1337.6 L1256.9,1339.9 L1255.0,1342.2 L1253.0,1344.5 L1251.0,1346.8 L1249.0,1349.0 L1247.0,1351.2 L1245.0,1353.4 L1243.0,1355.5 L1240.9,1357.7 L1238.9,1359.8 L1236.9,1361.9 L1234.9,1364.1 L1232.8,1366.2 L1230.8,1368.2 L1228.8,1370.3 L1226.7,1372.4 L1224.7,1374.5 L1222.8,1376.4 L1220.9,1378.4 L1219.0,1380.3 L1217.1,1382.2 L1215.1,1384.1 L1213.2,1386.0 L1211.3,1387.9 L1209.4,1389.8 L1207.4,1391.6 L1205.5,1393.5 L1203.6,1395.3 L1201.6,1397.1 L1199.7,1398.9 L1197.7,1400.7 L1195.8,1402.5 L1193.8,1404.2 L1191.8,1405.9 L1189.9,1407.6 L1187.9,1409.3 L1185.9,1411.0 L1184.0,1412.7 L1182.0,1414.3 L1180.0,1415.9 L1178.0,1417.5 L1176.1,1419.0 L1174.3,1420.4 L1172.4,1421.9 L1170.6,1423.3 L1168.7,1424.8 L1166.9,1426.2 L1165.0,1427.6 L1163.1,1429.0 L1161.2,1430.4 L1159.4,1431.7 L1157.5,1433.1 L1155.6,1434.4 L1153.7,1435.7 L1151.8,1437.0 L1149.9,1438.2 L1148.0,1439.5 L1146.1,1440.7 L1144.2,1441.9 L1142.3,1443.0 L1140.4,1444.2 L1138.5,1445.3 L1136.6,1446.3 L1134.6,1447.4 L1132.7,1448.4 L1130.9,1449.3 L1129.1,1450.2 L1127.3,1451.0 L1125.5,1451.8 L1123.7,1452.6 L1121.9,1453.3 L1120.1,1454.1 L1118.3,1454.8 L1116.5,1455.5 L1114.7,1456.2 L1112.9,1456.8 L1111.0,1457.4 L1109.2,1458.1 L1107.4,1458.7 L1105.6,1459.3 L1103.7,1459.8 L1101.9,1460.4 L1100.1,1461.0 L1098.2,1461.5 L1096.4,1462.1 L1094.5,1462.7 L1092.7,1463.2 L1090.8,1463.8 L1089.0,1464.3 L1087.2,1464.8 L1085.3,1465.3 L1083.5,1465.8 L1081.6,1466.3 L1079.8,1466.8 L1077.9,1467.2 L1076.1,1467.6 L1074.2,1468.0 L1072.3,1468.4 L1070.5,1468.8 L1068.6,1469.2 L1066.7,1469.6 L1064.9,1470.0 L1063.0,1470.4 L1061.1,1470.8 L1059.3,1471.2 L1057.4,1471.6 L1055.5,1472.0 L1053.7,1472.4 L1051.8,1472.8 L1050.0,1473.3 L1048.2,1473.7 L1046.3,1474.2 L1044.5,1474.7 L1042.7,1475.2 L1040.9,1475.7 L1039.1,1476.3 L1037.3,1476.8 L1035.6,1477.4 L1033.8,1478.0 L1032.0,1478.6 L1030.3,1479.2 L1028.5,1479.8 L1026.7,1480.4 L1025.0,1481.0 L1023.2,1481.6 L1021.5,1482.2 L1019.7,1482.8 L1017.9,1483.4 L1016.2,1484.0 L1014.4,1484.6 L1012.7,1485.2 L1010.9,1485.7 L1009.1,1486.3 L1007.3,1486.8 L1005.6,1487.3 L1003.8,1487.8 L1002.0,1488.3 L1000.2,1488.7 L998.4,1489.2 L996.7,1489.6 L994.9,1490.0 L993.1,1490.4 L991.3,1490.8 L989.5,1491.2 L987.7,1491.6 L985.9,1492.0 L984.1,1492.3 L982.3,1492.7 L980.5,1493.0 L978.7,1493.4 L976.9,1493.7 L975.1,1494.0 L973.3,1494.3 L971.5,1494.6 L969.7,1495.0 L967.9,1495.3 L966.1,1495.5 L964.3,1495.8 L962.6,1496.1 L960.8,1496.4 L959.0,1496.7 L957.3,1497.0 L955.6,1497.2 L953.8,1497.5 L952.1,1497.7 L950.4,1498.0 L948.7,1498.2 L947.0,1498.4 L945.3,1498.7 L943.6,1498.9 L941.9,1499.1 L940.2,1499.3 L938.5,1499.5 L936.8,1499.7 L935.1,1499.9 L933.3,1500.1 L931.6,1500.3 L929.9,1500.5 L928.2,1500.6 L926.5,1500.8 L924.8,1501.0 L923.1,1501.2 L921.4,1501.4 L919.7,1501.5 L918.0,1501.7 L916.3,1501.9 L914.6,1502.0 L912.9,1502.2 L911.2,1502.4 L909.5,1502.5 L907.7,1502.7 L906.0,1502.8 L904.3,1503.0 L902.6,1503.1 L900.9,1503.3 L899.2,1503.4 L897.5,1503.5 L895.8,1503.7 L894.1,1503.8 L892.3,1503.9 L890.6,1504.1 L888.9,1504.2 L887.2,1504.3 L885.5,1504.4 L883.8,1504.5 L882.1,1504.7 L880.4,1504.8 L878.7,1504.9 L877.0,1505.0 L875.3,1505.1 L873.7,1505.2 L872.0,1505.3 L870.4,1505.4 L868.8,1505.5 L867.1,1505.6 L865.5,1505.7 L863.9,1505.8 L862.3,1505.9 L860.7,1505.9 L859.0,1506.0 L857.4,1506.1 L855.8,1506.2 L854.1,1506.3 L852.5,1506.3 L850.8,1506.4 L849.2,1506.5 L847.5,1506.6 L845.8,1506.6 L844.1,1506.7 L842.3,1506.8 L840.6,1506.8 L838.8,1506.9 L837.0,1507.0 L834.8,1507.1 L832.6,1507.2 L830.4,1507.3 L828.2,1507.4 L825.9,1507.5 L823.7,1507.6 L821.4,1507.6 L819.1,1507.7 L816.8,1507.8 L814.5,1507.9 L812.1,1508.0 L809.7,1508.1 L807.3,1508.2 L804.9,1508.3 L802.5,1508.3 L800.1,1508.4 L797.6,1508.5 L795.2,1508.6 L792.7,1508.7 L790.2,1508.7 L787.7,1508.8 L785.1,1508.9 L782.6,1508.9 L780.0,1509.0 L777.0,1509.1 L773.9,1509.1 L770.9,1509.2 L767.9,1509.3 L764.9,1509.3 L761.9,1509.4 L758.9,1509.4 L755.8,1509.5 L752.7,1509.5 L749.6,1509.5 L746.5,1509.6 L743.3,1509.6 L740.1,1509.6 L736.8,1509.7 L733.5,1509.7 L730.1,1509.7 L726.6,1509.8 L723.1,1509.8 L719.5,1509.8 L715.8,1509.9 L712.0,1509.9 L708.1,1509.9 L704.1,1510.0 L700.0,1510.0 L692.9,1510.1 L685.5,1510.1 L677.7,1510.2 L669.6,1510.2 L661.3,1510.3 L652.7,1510.3 L643.8,1510.4 L634.7,1510.4 L625.5,1510.4 L616.1,1510.5 L606.5,1510.5 L596.8,1510.6 L587.0,1510.6 L577.2,1510.6 L567.3,1510.7 L557.4,1510.7 L547.4,1510.7 L537.6,1510.8 L527.7,1510.8 L517.9,1510.8 L508.2,1510.9 L498.7,1510.9 L489.3,1511.0 L480.0,1511.0" fill="none" stroke="#de9b22" stroke-width="10" stroke-linejoin="round"/>
<path d="M1573.7,34.1 L1579.7,51.5 L1598.1,51.9 L1583.5,63.0 L1588.8,80.7 L1573.7,70.1 L1558.5,80.7 L1563.9,63.0 L1549.2,51.9 L1567.6,51.5Z M1520.8,409.4 L1526.8,426.9 L1545.3,427.2 L1530.6,438.4 L1535.9,456.0 L1520.8,445.5 L1505.6,456.0 L1511.0,438.4 L1496.3,427.2 L1514.7,426.9Z M1468.9,717.2 L1475.0,734.6 L1493.4,734.9 L1478.7,746.1 L1484.1,763.7 L1468.9,753.2 L1453.8,763.7 L1459.1,746.1 L1444.4,734.9 L1462.9,734.6Z M1418.1,938.3 L1424.1,955.7 L1442.6,956.1 L1427.9,967.2 L1433.2,984.9 L1418.1,974.3 L1402.9,984.9 L1408.3,967.2 L1393.6,956.1 L1412.0,955.7Z M1368.2,1092.0 L1374.3,1109.4 L1392.7,1109.7 L1378.0,1120.9 L1383.3,1138.5 L1368.2,1128.0 L1353.1,1138.5 L1358.4,1120.9 L1343.7,1109.7 L1362.2,1109.4Z M1319.3,1212.2 L1325.4,1229.6 L1343.8,1229.9 L1329.1,1241.1 L1334.4,1258.7 L1319.3,1248.2 L1304.2,1258.7 L1309.5,1241.1 L1294.8,1229.9 L1313.2,1229.6Z M1271.3,1300.5 L1277.4,1317.9 L1295.8,1318.3 L1281.1,1329.4 L1286.4,1347.1 L1271.3,1336.6 L1256.2,1347.1 L1261.5,1329.4 L1246.8,1318.3 L1265.3,1317.9Z M1224.2,1354.2 L1230.3,1371.7 L1248.7,1372.0 L1234.0,1383.2 L1239.4,1400.8 L1224.2,1390.3 L1209.1,1400.8 L1214.4,1383.2 L1199.7,1372.0 L1218.2,1371.7Z M1178.0,1396.7 L1184.1,1414.2 L1202.5,1414.5 L1187.8,1425.7 L1193.1,1443.3 L1178.0,1432.8 L1162.9,1443.3 L1168.2,1425.7 L1153.5,1414.5 L1171.9,1414.2Z M1132.6,1427.7 L1138.7,1445.1 L1157.1,1445.5 L1142.4,1456.6 L1147.8,1474.3 L1132.6,1463.7 L1117.5,1474.3 L1122.8,1456.6 L1108.1,1445.5 L1126.6,1445.1Z M1088.1,1443.8 L1094.1,1461.2 L1112.6,1461.6 L1097.9,1472.7 L1103.2,1490.4 L1088.1,1479.9 L1073.0,1490.4 L1078.3,1472.7 L1063.6,1461.6 L1082.0,1461.2Z M1044.3,1454.0 L1050.4,1471.4 L1068.8,1471.8 L1054.1,1482.9 L1059.5,1500.6 L1044.3,1490.0 L1029.2,1500.6 L1034.6,1482.9 L1019.9,1471.8 L1038.3,1471.4Z M1001.4,1467.7 L1007.4,1485.1 L1025.9,1485.5 L1011.2,1496.6 L1016.5,1514.3 L1001.4,1503.8 L986.3,1514.3 L991.6,1496.6 L976.9,1485.5 L995.3,1485.1Z M959.2,1475.9 L965.2,1493.3 L983.7,1493.7 L969.0,1504.9 L974.3,1522.5 L959.2,1512.0 L944.1,1522.5 L949.4,1504.9 L934.7,1493.7 L953.1,1493.3Z M917.7,1481.0 L923.8,1498.4 L942.2,1498.8 L927.5,1509.9 L932.9,1527.6 L917.7,1517.0 L902.6,1527.6 L907.9,1509.9 L893.2,1498.8 L911.7,1498.4Z M877.0,1484.3 L883.0,1501.7 L901.5,1502.0 L886.8,1513.2 L892.1,1530.8 L877.0,1520.3 L861.9,1530.8 L867.2,1513.2 L852.5,1502.0 L870.9,1501.7Z" fill="#de9b22" stroke="#de9b22" stroke-width="2.5" stroke-linejoin="round"/>
<path d="M1804.0,27.0 L1803.6,30.0 L1803.2,33.0 L1802.8,35.9 L1802.4,38.8 L1802.0,41.7 L1801.6,44.6 L1801.2,47.4 L1800.8,50.3 L1800.4,53.1 L1800.0,56.0 L1799.6,58.8 L1799.2,61.7 L1798.8,64.6 L1798.4,67.6 L1798.0,70.5 L1797.6,73.6 L1797.1,76.6 L1796.7,79.8 L1796.3,82.9 L1795.8,86.2 L1795.4,89.5 L1794.9,92.9 L1794.5,96.4 L1794.0,100.0 L1793.3,105.5 L1792.5,111.2 L1791.8,117.2 L1791.0,123.3 L1790.2,129.7 L1789.3,136.2 L1788.5,142.8 L1787.6,149.6 L1786.8,156.5 L1785.9,163.4 L1785.0,170.5 L1784.1,177.6 L1783.2,184.7 L1782.3,191.8 L1781.4,199.0 L1780.5,206.1 L1779.6,213.2 L1778.7,220.2 L1777.8,227.1 L1776.9,234.0 L1776.0,240.7 L1775.1,247.3 L1774.3,253.7 L1773.4,260.0 L1772.7,265.4 L1771.9,270.8 L1771.1,276.3 L1770.4,281.7 L1769.6,287.2 L1768.8,292.7 L1768.0,298.2 L1767.2,303.7 L1766.4,309.1 L1765.6,314.5 L1764.8,319.8 L1764.0,325.1 L1763.3,330.3 L1762.5,335.4 L1761.8,340.5 L1761.0,345.4 L1760.3,350.2 L1759.6,354.9 L1759.0,359.5 L1758.3,363.9 L1757.7,368.2 L1757.1,372.3 L1756.5,376.2 L1756.0,380.0 L1755.7,382.1 L1755.4,384.0 L1755.2,385.8 L1755.0,387.6 L1754.7,389.3 L1754.5,390.9 L1754.3,392.4 L1754.1,393.9 L1753.9,395.4 L1753.8,396.8 L1753.6,398.3 L1753.4,399.7 L1753.2,401.1 L1753.0,402.5 L1752.8,404.0 L1752.6,405.5 L1752.4,407.0 L1752.2,408.6 L1752.0,410.3 L1751.7,412.0 L1751.4,413.9 L1751.1,415.8 L1750.8,417.8 L1750.5,420.0 L1749.8,424.6 L1749.0,429.7 L1748.1,435.0 L1747.2,440.7 L1746.2,446.7 L1745.1,452.9 L1744.0,459.4 L1742.9,466.1 L1741.7,472.9 L1740.5,480.0 L1739.3,487.1 L1738.0,494.4 L1736.7,501.8 L1735.4,509.1 L1734.1,516.6 L1732.8,524.0 L1731.5,531.4 L1730.1,538.7 L1728.8,545.9 L1727.5,553.1 L1726.2,560.1 L1725.0,566.9 L1723.7,573.6 L1722.5,580.0 L1721.4,585.7 L1720.3,591.4 L1719.2,597.0 L1718.1,602.6 L1717.0,608.2 L1715.9,613.7 L1714.8,619.3 L1713.7,624.8 L1712.6,630.3 L1711.5,635.7 L1710.4,641.2 L1709.3,646.6 L1708.1,652.0 L1707.0,657.3 L1705.9,662.7 L1704.8,668.0 L1703.7,673.3 L1702.5,678.6 L1701.4,683.9 L1700.3,689.1 L1699.2,694.4 L1698.0,699.6 L1696.9,704.8 L1695.8,710.0 L1694.8,714.8 L1693.7,719.5 L1692.7,724.2 L1691.7,728.9 L1690.7,733.5 L1689.6,738.2 L1688.6,742.8 L1687.6,747.4 L1686.6,752.0 L1685.6,756.5 L1684.5,761.1 L1683.5,765.6 L1682.5,770.2 L1681.5,774.7 L1680.4,779.2 L1679.4,783.7 L1678.3,788.2 L1677.3,792.8 L1676.2,797.3 L1675.1,801.8 L1674.0,806.3 L1672.9,810.9 L1671.8,815.4 L1670.7,820.0 L1669.6,824.6 L1668.4,829.2 L1667.3,833.7 L1666.1,838.3 L1665.0,842.9 L1663.8,847.4 L1662.7,852.0 L1661.5,856.5 L1660.3,861.1 L1659.1,865.7 L1657.9,870.2 L1656.7,874.8 L1655.5,879.3 L1654.3,883.9 L1653.1,888.5 L1651.9,893.0 L1650.6,897.6 L1649.4,902.2 L1648.1,906.8 L1646.8,911.4 L1645.5,916.1 L1644.2,920.7 L1642.9,925.3 L1641.6,930.0 L1640.2,934.9 L1638.8,939.9 L1637.3,944.8 L1635.8,949.8 L1634.3,954.8 L1632.8,959.8 L1631.3,964.8 L1629.7,969.8 L1628.1,974.8 L1626.6,979.9 L1625.0,984.9 L1623.4,989.9 L1621.9,995.0 L1620.3,1000.0 L1618.7,1005.1 L1617.1,1010.1 L1615.6,1015.1 L1614.0,1020.2 L1612.5,1025.2 L1610.9,1030.2 L1609.4,1035.1 L1607.9,1040.1 L1606.5,1045.1 L1605.0,1050.0 L1603.6,1054.7 L1602.3,1059.5 L1601.0,1064.2 L1599.7,1068.9 L1598.5,1073.5 L1597.2,1078.2 L1596.0,1082.9 L1594.8,1087.6 L1593.6,1092.2 L1592.4,1096.9 L1591.2,1101.5 L1590.0,1106.2 L1588.8,1110.8 L1587.5,1115.5 L1586.3,1120.1 L1585.0,1124.7 L1583.7,1129.4 L1582.4,1134.0 L1581.0,1138.7 L1579.6,1143.3 L1578.2,1148.0 L1576.7,1152.7 L1575.2,1157.3 L1573.6,1162.0 L1571.9,1166.9 L1570.2,1171.9 L1568.4,1176.9 L1566.6,1181.9 L1564.8,1187.0 L1562.9,1192.1 L1561.1,1197.2 L1559.2,1202.3 L1557.2,1207.4 L1555.3,1212.5 L1553.3,1217.6 L1551.3,1222.7 L1549.2,1227.7 L1547.2,1232.7 L1545.1,1237.7 L1542.9,1242.7 L1540.8,1247.6 L1538.6,1252.4 L1536.4,1257.2 L1534.2,1261.9 L1531.9,1266.6 L1529.6,1271.1 L1527.3,1275.6 L1525.0,1280.0 L1522.9,1283.8 L1520.8,1287.5 L1518.7,1291.2 L1516.5,1294.9 L1514.3,1298.5 L1512.1,1302.0 L1509.8,1305.6 L1507.5,1309.0 L1505.2,1312.5 L1502.9,1315.9 L1500.6,1319.3 L1498.2,1322.6 L1495.8,1326.0 L1493.5,1329.3 L1491.1,1332.5 L1488.7,1335.8 L1486.3,1339.0 L1483.9,1342.2 L1481.5,1345.4 L1479.2,1348.5 L1476.8,1351.7 L1474.4,1354.8 L1472.0,1357.9 L1469.7,1361.0 L1467.6,1363.8 L1465.5,1366.6 L1463.3,1369.4 L1461.2,1372.2 L1459.1,1375.0 L1457.0,1377.7 L1454.9,1380.5 L1452.8,1383.2 L1450.7,1385.9 L1448.5,1388.6 L1446.4,1391.3 L1444.3,1393.9 L1442.1,1396.6 L1440.0,1399.1 L1437.8,1401.7 L1435.7,1404.2 L1433.5,1406.7 L1431.3,1409.2 L1429.1,1411.6 L1426.9,1414.0 L1424.7,1416.3 L1422.5,1418.6 L1420.3,1420.8 L1418.0,1423.0 L1416.0,1424.9 L1414.0,1426.8 L1412.0,1428.6 L1409.9,1430.4 L1407.9,1432.1 L1405.8,1433.9 L1403.8,1435.6 L1401.7,1437.3 L1399.6,1438.9 L1397.5,1440.5 L1395.5,1442.1 L1393.4,1443.7 L1391.3,1445.3 L1389.2,1446.8 L1387.1,1448.3 L1384.9,1449.8 L1382.8,1451.2 L1380.7,1452.7 L1378.6,1454.1 L1376.5,1455.5 L1374.4,1456.9 L1372.2,1458.3 L1370.1,1459.7 L1368.0,1461.0 L1366.0,1462.2 L1364.1,1463.4 L1362.1,1464.6 L1360.2,1465.8 L1358.2,1466.9 L1356.2,1468.1 L1354.2,1469.2 L1352.3,1470.3 L1350.3,1471.4 L1348.3,1472.4 L1346.3,1473.5 L1344.4,1474.5 L1342.4,1475.5 L1340.4,1476.5 L1338.4,1477.5 L1336.4,1478.5 L1334.4,1479.4 L1332.4,1480.3 L1330.4,1481.3 L1328.4,1482.2 L1326.4,1483.1 L1324.3,1484.0 L1322.3,1484.8 L1320.3,1485.7 L1318.3,1486.5 L1316.3,1487.3 L1314.4,1488.1 L1312.4,1488.9 L1310.4,1489.6 L1308.4,1490.4 L1306.4,1491.1 L1304.3,1491.8 L1302.3,1492.5 L1300.3,1493.2 L1298.3,1493.9 L1296.3,1494.5 L1294.3,1495.2 L1292.2,1495.8 L1290.2,1496.5 L1288.2,1497.1 L1286.2,1497.7 L1284.1,1498.3 L1282.1,1498.9 L1280.1,1499.4 L1278.1,1500.0 L1276.0,1500.6 L1274.0,1501.1 L1272.0,1501.7 L1270.0,1502.2 L1268.1,1502.8 L1266.2,1503.3 L1264.2,1503.8 L1262.3,1504.3 L1260.4,1504.8 L1258.5,1505.3 L1256.6,1505.8 L1254.7,1506.3 L1252.8,1506.7 L1250.9,1507.2 L1249.0,1507.6 L1247.1,1508.1 L1245.2,1508.5 L1243.2,1508.9 L1241.3,1509.3 L1239.3,1509.7 L1237.3,1510.0 L1235.2,1510.4 L1233.2,1510.8 L1231.1,1511.1 L1228.9,1511.4 L1226.8,1511.7 L1224.6,1512.0 L1221.9,1512.3 L1219.2,1512.6 L1216.6,1512.9 L1214.0,1513.1 L1211.5,1513.4 L1208.9,1513.5 L1206.4,1513.7 L1203.8,1513.9 L1201.2,1514.0 L1198.5,1514.1 L1195.8,1514.2 L1193.1,1514.3 L1190.2,1514.3 L1187.3,1514.4 L1184.2,1514.5 L1181.0,1514.5 L1177.7,1514.6 L1174.3,1514.6 L1170.7,1514.7 L1167.0,1514.7 L1163.0,1514.8 L1158.9,1514.8 L1154.6,1514.9 L1150.0,1515.0 L1134.9,1515.3 L1117.6,1515.5 L1098.3,1515.6 L1077.1,1515.8 L1054.1,1515.9 L1029.6,1515.9 L1003.6,1516.0 L976.3,1516.0 L947.8,1516.0 L918.3,1516.0 L887.9,1515.9 L856.8,1515.8 L825.2,1515.8 L793.1,1515.7 L760.7,1515.6 L728.1,1515.5 L695.6,1515.4 L663.2,1515.3 L631.1,1515.2 L599.4,1515.2 L568.3,1515.1 L538.0,1515.0 L508.5,1515.0 L480.0,1515.0" fill="none" stroke="#ff9900" stroke-width="10" stroke-linejoin="round"/>
<path d="M1796.2,60.8 L1802.3,78.3 L1820.7,78.6 L1806.0,89.8 L1811.4,107.4 L1796.2,96.9 L1781.1,107.4 L1786.4,89.8 L1771.7,78.6 L1790.2,78.3Z M1738.9,447.9 L1744.9,465.3 L1763.4,465.6 L1748.7,476.8 L1754.0,494.4 L1738.9,483.9 L1723.7,494.4 L1729.1,476.8 L1714.4,465.6 L1732.8,465.3Z M1682.7,739.8 L1688.7,757.2 L1707.2,757.5 L1692.5,768.7 L1697.8,786.3 L1682.7,775.8 L1667.5,786.3 L1672.9,768.7 L1658.2,757.5 L1676.6,757.2Z M1627.6,964.8 L1633.7,982.2 L1652.1,982.5 L1637.4,993.7 L1642.7,1011.3 L1627.6,1000.8 L1612.5,1011.3 L1617.8,993.7 L1603.1,982.5 L1621.6,982.2Z M1573.7,1142.2 L1579.7,1159.7 L1598.1,1160.0 L1583.5,1171.2 L1588.8,1188.8 L1573.7,1178.3 L1558.5,1188.8 L1563.9,1171.2 L1549.2,1160.0 L1567.6,1159.7Z M1520.8,1256.2 L1526.8,1273.7 L1545.3,1274.0 L1530.6,1285.2 L1535.9,1302.8 L1520.8,1292.3 L1505.6,1302.8 L1511.0,1285.2 L1496.3,1274.0 L1514.7,1273.7Z M1468.9,1341.3 L1475.0,1358.7 L1493.4,1359.1 L1478.7,1370.2 L1484.1,1387.9 L1468.9,1377.3 L1453.8,1387.9 L1459.1,1370.2 L1444.4,1359.1 L1462.9,1358.7Z M1418.1,1402.2 L1424.1,1419.6 L1442.6,1420.0 L1427.9,1431.1 L1433.2,1448.8 L1418.1,1438.2 L1402.9,1448.8 L1408.3,1431.1 L1393.6,1420.0 L1412.0,1419.6Z M1368.2,1440.1 L1374.3,1457.5 L1392.7,1457.9 L1378.0,1469.0 L1383.3,1486.7 L1368.2,1476.2 L1353.1,1486.7 L1358.4,1469.0 L1343.7,1457.9 L1362.2,1457.5Z M1319.3,1465.4 L1325.4,1482.8 L1343.8,1483.2 L1329.1,1494.3 L1334.4,1511.9 L1319.3,1501.4 L1304.2,1511.9 L1309.5,1494.3 L1294.8,1483.2 L1313.2,1482.8Z M1271.3,1481.1 L1277.4,1498.6 L1295.8,1498.9 L1281.1,1510.1 L1286.4,1527.7 L1271.3,1517.2 L1256.2,1527.7 L1261.5,1510.1 L1246.8,1498.9 L1265.3,1498.6Z M1224.2,1491.3 L1230.3,1508.7 L1248.7,1509.1 L1234.0,1520.2 L1239.4,1537.9 L1224.2,1527.3 L1209.1,1537.9 L1214.4,1520.2 L1199.7,1509.1 L1218.2,1508.7Z" fill="#ff9900" stroke="#ff9900" stroke-width="2.5" stroke-linejoin="round"/>
<path d="M1871.5,27.0 L1871.1,30.0 L1870.7,33.0 L1870.2,35.9 L1869.8,38.8 L1869.4,41.7 L1869.0,44.6 L1868.7,47.4 L1868.3,50.3 L1867.9,53.1 L1867.5,56.0 L1867.1,58.9 L1866.7,61.7 L1866.3,64.6 L1865.9,67.6 L1865.4,70.6 L1865.0,73.6 L1864.6,76.6 L1864.1,79.8 L1863.7,83.0 L1863.2,86.2 L1862.7,89.5 L1862.2,92.9 L1861.7,96.4 L1861.2,100.0 L1860.4,105.5 L1859.5,111.2 L1858.7,117.0 L1857.7,123.1 L1856.8,129.3 L1855.8,135.7 L1854.9,142.1 L1853.9,148.8 L1852.8,155.5 L1851.8,162.3 L1850.7,169.2 L1849.6,176.1 L1848.6,183.2 L1847.5,190.2 L1846.4,197.3 L1845.2,204.4 L1844.1,211.5 L1843.0,218.6 L1841.9,225.6 L1840.8,232.6 L1839.7,239.6 L1838.6,246.5 L1837.5,253.3 L1836.4,260.0 L1835.3,266.7 L1834.2,273.3 L1833.2,280.0 L1832.1,286.7 L1831.0,293.4 L1829.9,300.0 L1828.8,306.7 L1827.8,313.4 L1826.7,320.0 L1825.6,326.7 L1824.5,333.4 L1823.4,340.0 L1822.3,346.7 L1821.1,353.4 L1820.0,360.0 L1818.9,366.7 L1817.7,373.4 L1816.6,380.0 L1815.4,386.7 L1814.3,393.4 L1813.1,400.0 L1811.9,406.7 L1810.7,413.3 L1809.5,420.0 L1808.3,426.7 L1807.0,433.4 L1805.8,440.2 L1804.5,446.9 L1803.2,453.7 L1801.9,460.5 L1800.6,467.3 L1799.3,474.1 L1798.0,480.9 L1796.7,487.7 L1795.4,494.5 L1794.0,501.3 L1792.7,508.0 L1791.4,514.8 L1790.0,521.5 L1788.7,528.2 L1787.3,534.8 L1786.0,541.4 L1784.6,548.0 L1783.3,554.5 L1782.0,561.0 L1780.6,567.4 L1779.3,573.7 L1778.0,580.0 L1776.8,585.5 L1775.7,591.0 L1774.5,596.4 L1773.3,601.8 L1772.2,607.2 L1771.0,612.5 L1769.8,617.8 L1768.7,623.0 L1767.5,628.3 L1766.3,633.5 L1765.2,638.7 L1764.0,643.8 L1762.8,649.0 L1761.7,654.1 L1760.5,659.2 L1759.3,664.3 L1758.2,669.4 L1757.0,674.5 L1755.8,679.6 L1754.7,684.7 L1753.5,689.7 L1752.3,694.8 L1751.2,699.9 L1750.0,705.0 L1748.9,709.9 L1747.8,714.8 L1746.7,719.6 L1745.6,724.4 L1744.6,729.3 L1743.5,734.1 L1742.5,738.9 L1741.4,743.7 L1740.3,748.4 L1739.3,753.2 L1738.2,758.0 L1737.2,762.7 L1736.1,767.5 L1735.0,772.3 L1733.9,777.0 L1732.8,781.8 L1731.7,786.5 L1730.5,791.3 L1729.3,796.1 L1728.1,800.8 L1726.9,805.6 L1725.6,810.4 L1724.3,815.2 L1723.0,820.0 L1721.6,825.0 L1720.1,830.0 L1718.7,835.0 L1717.1,840.0 L1715.6,845.0 L1714.0,850.0 L1712.4,855.1 L1710.8,860.1 L1709.2,865.2 L1707.5,870.2 L1705.9,875.2 L1704.2,880.3 L1702.5,885.3 L1700.8,890.3 L1699.1,895.3 L1697.4,900.4 L1695.7,905.4 L1694.0,910.4 L1692.3,915.3 L1690.6,920.3 L1688.9,925.3 L1687.3,930.2 L1685.6,935.1 L1684.0,940.0 L1682.5,944.7 L1680.9,949.3 L1679.4,954.0 L1677.9,958.6 L1676.4,963.2 L1674.9,967.8 L1673.5,972.3 L1672.0,976.9 L1670.5,981.5 L1669.0,986.0 L1667.5,990.6 L1666.0,995.1 L1664.5,999.6 L1663.0,1004.2 L1661.5,1008.7 L1660.0,1013.3 L1658.4,1017.8 L1656.9,1022.4 L1655.3,1026.9 L1653.7,1031.5 L1652.1,1036.1 L1650.4,1040.7 L1648.7,1045.4 L1647.0,1050.0 L1645.1,1055.0 L1643.2,1060.1 L1641.1,1065.4 L1639.0,1070.7 L1636.8,1076.1 L1634.6,1081.6 L1632.3,1087.1 L1630.0,1092.7 L1627.7,1098.2 L1625.4,1103.7 L1623.0,1109.3 L1620.7,1114.7 L1618.4,1120.1 L1616.2,1125.4 L1614.0,1130.6 L1611.9,1135.7 L1609.8,1140.7 L1607.8,1145.5 L1605.9,1150.1 L1604.1,1154.5 L1602.4,1158.8 L1600.8,1162.8 L1599.3,1166.5 L1598.0,1170.0 L1597.4,1171.6 L1596.9,1173.2 L1596.3,1174.7 L1595.9,1176.1 L1595.4,1177.5 L1595.0,1178.9 L1594.6,1180.2 L1594.2,1181.4 L1593.9,1182.7 L1593.5,1183.9 L1593.2,1185.0 L1592.9,1186.2 L1592.5,1187.3 L1592.2,1188.5 L1591.9,1189.6 L1591.5,1190.7 L1591.1,1191.8 L1590.8,1193.0 L1590.4,1194.1 L1590.0,1195.2 L1589.5,1196.4 L1589.1,1197.6 L1588.5,1198.8 L1588.0,1200.0 L1587.4,1201.4 L1586.7,1202.8 L1586.0,1204.2 L1585.3,1205.6 L1584.6,1207.0 L1583.9,1208.4 L1583.1,1209.8 L1582.4,1211.2 L1581.6,1212.7 L1580.8,1214.1 L1580.0,1215.5 L1579.1,1216.9 L1578.3,1218.3 L1577.5,1219.7 L1576.6,1221.1 L1575.8,1222.5 L1574.9,1223.9 L1574.1,1225.2 L1573.2,1226.6 L1572.3,1227.9 L1571.5,1229.2 L1570.6,1230.5 L1569.8,1231.8 L1568.9,1233.0 L1568.1,1234.1 L1567.3,1235.2 L1566.5,1236.3 L1565.7,1237.3 L1564.9,1238.3 L1564.1,1239.4 L1563.2,1240.4 L1562.4,1241.4 L1561.6,1242.4 L1560.7,1243.3 L1559.9,1244.3 L1559.0,1245.3 L1558.2,1246.3 L1557.3,1247.2 L1556.5,1248.2 L1555.7,1249.1 L1554.9,1250.1 L1554.0,1251.1 L1553.2,1252.0 L1552.5,1253.0 L1551.7,1254.0 L1550.9,1255.0 L1550.2,1256.0 L1549.5,1257.0 L1548.9,1257.9 L1548.3,1258.9 L1547.7,1259.8 L1547.2,1260.7 L1546.7,1261.6 L1546.2,1262.5 L1545.7,1263.4 L1545.2,1264.2 L1544.8,1265.1 L1544.3,1266.0 L1543.8,1266.9 L1543.4,1267.8 L1542.9,1268.7 L1542.4,1269.7 L1541.9,1270.6 L1541.4,1271.6 L1540.9,1272.5 L1540.3,1273.5 L1539.7,1274.5 L1539.0,1275.6 L1538.4,1276.6 L1537.6,1277.7 L1536.8,1278.8 L1536.0,1280.0 L1534.3,1282.3 L1532.3,1284.8 L1530.2,1287.4 L1528.0,1290.1 L1525.6,1293.0 L1523.1,1296.0 L1520.4,1299.0 L1517.7,1302.1 L1514.9,1305.3 L1511.9,1308.6 L1509.0,1311.8 L1505.9,1315.1 L1502.8,1318.5 L1499.7,1321.8 L1496.6,1325.1 L1493.5,1328.4 L1490.3,1331.6 L1487.2,1334.8 L1484.2,1337.9 L1481.1,1340.9 L1478.2,1343.9 L1475.3,1346.7 L1472.4,1349.4 L1469.7,1352.0 L1467.5,1354.1 L1465.3,1356.1 L1463.1,1358.1 L1460.9,1360.0 L1458.8,1362.0 L1456.6,1363.8 L1454.5,1365.7 L1452.3,1367.5 L1450.2,1369.4 L1448.1,1371.1 L1445.9,1372.9 L1443.8,1374.6 L1441.7,1376.3 L1439.5,1378.0 L1437.4,1379.7 L1435.3,1381.3 L1433.1,1383.0 L1431.0,1384.6 L1428.8,1386.2 L1426.7,1387.8 L1424.5,1389.3 L1422.4,1390.9 L1420.2,1392.5 L1418.0,1394.0 L1415.9,1395.4 L1413.9,1396.8 L1411.8,1398.2 L1409.8,1399.6 L1407.7,1400.9 L1405.6,1402.3 L1403.5,1403.6 L1401.5,1404.9 L1399.4,1406.2 L1397.3,1407.4 L1395.2,1408.7 L1393.1,1409.9 L1391.0,1411.2 L1388.9,1412.4 L1386.8,1413.6 L1384.7,1414.8 L1382.6,1416.0 L1380.5,1417.1 L1378.4,1418.3 L1376.4,1419.4 L1374.3,1420.6 L1372.2,1421.7 L1370.1,1422.9 L1368.0,1424.0 L1366.0,1425.1 L1364.0,1426.1 L1362.1,1427.2 L1360.1,1428.2 L1358.1,1429.3 L1356.1,1430.3 L1354.2,1431.3 L1352.2,1432.3 L1350.2,1433.3 L1348.2,1434.3 L1346.3,1435.3 L1344.3,1436.3 L1342.3,1437.2 L1340.3,1438.2 L1338.4,1439.1 L1336.4,1440.1 L1334.4,1441.0 L1332.4,1441.9 L1330.4,1442.8 L1328.4,1443.7 L1326.4,1444.5 L1324.4,1445.4 L1322.3,1446.3 L1320.3,1447.1 L1318.3,1447.9 L1316.2,1448.7 L1314.2,1449.5 L1312.1,1450.3 L1310.0,1451.1 L1308.0,1451.9 L1305.9,1452.7 L1303.8,1453.4 L1301.7,1454.1 L1299.6,1454.9 L1297.5,1455.6 L1295.4,1456.3 L1293.3,1457.0 L1291.2,1457.7 L1289.1,1458.4 L1287.0,1459.0 L1284.9,1459.7 L1282.8,1460.3 L1280.7,1461.0 L1278.7,1461.6 L1276.6,1462.2 L1274.5,1462.8 L1272.5,1463.4 L1270.4,1464.0 L1268.5,1464.5 L1266.5,1465.1 L1264.6,1465.6 L1262.7,1466.1 L1260.8,1466.6 L1258.9,1467.0 L1257.0,1467.5 L1255.0,1468.0 L1253.1,1468.4 L1251.2,1468.8 L1249.3,1469.3 L1247.4,1469.7 L1245.5,1470.1 L1243.6,1470.5 L1241.7,1470.9 L1239.8,1471.3 L1237.9,1471.7 L1236.0,1472.1 L1234.1,1472.5 L1232.2,1472.9 L1230.3,1473.3 L1228.4,1473.7 L1226.5,1474.1 L1224.6,1474.5 L1222.7,1474.9 L1220.8,1475.3 L1218.9,1475.7 L1217.0,1476.1 L1215.0,1476.4 L1213.1,1476.8 L1211.2,1477.2 L1209.3,1477.5 L1207.4,1477.9 L1205.5,1478.3 L1203.5,1478.6 L1201.6,1479.0 L1199.7,1479.3 L1197.8,1479.7 L1195.9,1480.1 L1194.0,1480.4 L1192.1,1480.8 L1190.1,1481.1 L1188.2,1481.4 L1186.3,1481.8 L1184.4,1482.1 L1182.5,1482.5 L1180.6,1482.8 L1178.7,1483.2 L1176.8,1483.5 L1175.0,1483.9 L1173.1,1484.2 L1171.2,1484.6 L1169.4,1484.9 L1167.5,1485.2 L1165.6,1485.6 L1163.8,1485.9 L1161.9,1486.3 L1160.1,1486.6 L1158.2,1486.9 L1156.4,1487.3 L1154.5,1487.6 L1152.6,1487.9 L1150.8,1488.2 L1148.9,1488.6 L1147.1,1488.9 L1145.2,1489.3 L1143.3,1489.6 L1141.5,1489.9 L1139.6,1490.3 L1137.7,1490.6 L1135.9,1491.0 L1134.0,1491.3 L1132.1,1491.7 L1130.2,1492.0 L1128.3,1492.4 L1126.4,1492.7 L1124.4,1493.1 L1122.5,1493.5 L1120.6,1493.8 L1118.7,1494.2 L1116.8,1494.6 L1114.8,1494.9 L1112.9,1495.3 L1111.0,1495.7 L1109.1,1496.0 L1107.1,1496.4 L1105.2,1496.8 L1103.3,1497.1 L1101.4,1497.5 L1099.4,1497.9 L1097.5,1498.2 L1095.6,1498.6 L1093.7,1498.9 L1091.8,1499.3 L1089.9,1499.6 L1088.0,1500.0 L1086.1,1500.3 L1084.3,1500.7 L1082.5,1501.1 L1080.6,1501.4 L1078.8,1501.8 L1076.9,1502.1 L1075.1,1502.5 L1073.3,1502.9 L1071.4,1503.2 L1069.6,1503.6 L1067.8,1503.9 L1066.0,1504.3 L1064.1,1504.6 L1062.3,1505.0 L1060.5,1505.3 L1058.7,1505.6 L1056.8,1506.0 L1055.0,1506.3 L1053.2,1506.6 L1051.3,1506.9 L1049.5,1507.2 L1047.7,1507.5 L1045.8,1507.7 L1044.0,1508.0 L1042.2,1508.2 L1040.5,1508.5 L1038.8,1508.7 L1037.2,1508.9 L1035.7,1509.1 L1034.2,1509.3 L1032.6,1509.5 L1031.2,1509.7 L1029.7,1509.9 L1028.1,1510.0 L1026.6,1510.2 L1025.1,1510.3 L1023.4,1510.5 L1021.8,1510.6 L1020.1,1510.8 L1018.3,1510.9 L1016.4,1511.1 L1014.4,1511.2 L1012.3,1511.3 L1010.1,1511.5 L1007.8,1511.6 L1005.4,1511.7 L1002.8,1511.9 L1000.0,1512.0 L989.3,1512.4 L976.7,1512.8 L962.3,1513.1 L946.4,1513.4 L929.0,1513.6 L910.2,1513.8 L890.2,1513.9 L869.0,1514.0 L846.9,1514.1 L823.8,1514.1 L800.1,1514.1 L775.7,1514.1 L750.8,1514.1 L725.6,1514.1 L700.1,1514.0 L674.5,1514.0 L648.9,1514.0 L623.4,1513.9 L598.2,1513.9 L573.3,1513.9 L548.9,1513.9 L525.2,1513.9 L502.1,1513.9 L480.0,1514.0" fill="none" stroke="#ffcc00" stroke-width="10" stroke-linejoin="round"/>
<path d="M1854.8,106.8 L1860.9,124.3 L1879.3,124.6 L1864.6,135.8 L1869.9,153.4 L1854.8,142.9 L1839.7,153.4 L1845.0,135.8 L1830.3,124.6 L1848.8,124.3Z M1796.2,452.9 L1802.3,470.3 L1820.7,470.6 L1806.0,481.8 L1811.4,499.4 L1796.2,488.9 L1781.1,499.4 L1786.4,481.8 L1771.7,470.6 L1790.2,470.3Z M1738.9,717.2 L1744.9,734.7 L1763.4,735.0 L1748.7,746.2 L1754.0,763.8 L1738.9,753.3 L1723.7,763.8 L1729.1,746.2 L1714.4,735.0 L1732.8,734.7Z M1682.7,913.2 L1688.7,930.7 L1707.2,931.0 L1692.5,942.2 L1697.8,959.8 L1682.7,949.3 L1667.5,959.8 L1672.9,942.2 L1658.2,931.0 L1676.6,930.7Z M1627.6,1065.7 L1633.7,1083.1 L1652.1,1083.4 L1637.4,1094.6 L1642.7,1112.2 L1627.6,1101.7 L1612.5,1112.2 L1617.8,1094.6 L1603.1,1083.4 L1621.6,1083.1Z M1573.7,1185.2 L1579.7,1202.7 L1598.1,1203.0 L1583.5,1214.2 L1588.8,1231.8 L1573.7,1221.3 L1558.5,1231.8 L1563.9,1214.2 L1549.2,1203.0 L1567.6,1202.7Z M1520.8,1269.5 L1526.8,1287.0 L1545.3,1287.3 L1530.6,1298.5 L1535.9,1316.1 L1520.8,1305.6 L1505.6,1316.1 L1511.0,1298.5 L1496.3,1287.3 L1514.7,1287.0Z M1468.9,1332.0 L1475.0,1349.4 L1493.4,1349.8 L1478.7,1360.9 L1484.1,1378.6 L1468.9,1368.0 L1453.8,1378.6 L1459.1,1360.9 L1444.4,1349.8 L1462.9,1349.4Z M1418.1,1373.2 L1424.1,1390.6 L1442.6,1391.0 L1427.9,1402.1 L1433.2,1419.8 L1418.1,1409.2 L1402.9,1419.8 L1408.3,1402.1 L1393.6,1391.0 L1412.0,1390.6Z M1368.2,1403.1 L1374.3,1420.6 L1392.7,1420.9 L1378.0,1432.1 L1383.3,1449.7 L1368.2,1439.2 L1353.1,1449.7 L1358.4,1432.1 L1343.7,1420.9 L1362.2,1420.6Z M1319.3,1426.8 L1325.4,1444.2 L1343.8,1444.5 L1329.1,1455.7 L1334.4,1473.3 L1319.3,1462.8 L1304.2,1473.3 L1309.5,1455.7 L1294.8,1444.5 L1313.2,1444.2Z M1271.3,1443.0 L1277.4,1460.4 L1295.8,1460.8 L1281.1,1471.9 L1286.4,1489.6 L1271.3,1479.0 L1256.2,1489.6 L1261.5,1471.9 L1246.8,1460.8 L1265.3,1460.4Z M1224.2,1453.8 L1230.3,1471.2 L1248.7,1471.6 L1234.0,1482.8 L1239.4,1500.4 L1224.2,1489.9 L1209.1,1500.4 L1214.4,1482.8 L1199.7,1471.6 L1218.2,1471.2Z M1178.0,1462.6 L1184.1,1480.0 L1202.5,1480.4 L1187.8,1491.5 L1193.1,1509.2 L1178.0,1498.6 L1162.9,1509.2 L1168.2,1491.5 L1153.5,1480.4 L1171.9,1480.0Z M1132.6,1470.8 L1138.7,1488.2 L1157.1,1488.6 L1142.4,1499.7 L1147.8,1517.4 L1132.6,1506.9 L1117.5,1517.4 L1122.8,1499.7 L1108.1,1488.6 L1126.6,1488.2Z M1088.1,1479.2 L1094.1,1496.7 L1112.6,1497.0 L1097.9,1508.2 L1103.2,1525.8 L1088.1,1515.3 L1073.0,1525.8 L1078.3,1508.2 L1063.6,1497.0 L1082.0,1496.7Z M1044.3,1487.2 L1050.4,1504.6 L1068.8,1505.0 L1054.1,1516.1 L1059.5,1533.8 L1044.3,1523.3 L1029.2,1533.8 L1034.6,1516.1 L1019.9,1505.0 L1038.3,1504.6Z" fill="#ffcc00" stroke="#ffcc00" stroke-width="2.5" stroke-linejoin="round"/>
</g>
<g font-family="Liberation Serif, serif" font-weight="bold" font-size="60" text-anchor="middle" fill="#000">
<text x="107.5" y="1545">0.75</text>
<text x="365.6" y="1545">0.80</text>
<text x="623.6" y="1545">0.85</text>
<text x="881.7" y="1545">0.90</text>
<text x="1139.8" y="1545">0.95</text>
<text x="1397.8" y="1545">1.00</text>
<text x="1655.9" y="1545">1.05</text>
<text x="1914.0" y="1545">1.10</text>
</g>
<text x="982.8" y="1603.5" font-family="Liberation Serif, serif" font-weight="bold" font-size="67" text-anchor="middle">Photon energy (eV)</text>
<text transform="translate(94,870) rotate(-90) scale(1.09,1)" font-family="Liberation Serif, serif" font-weight="bold" font-size="73">(<tspan font-weight="normal">α</tspan>h<tspan font-weight="normal">υ</tspan>)<tspan font-size="50" dy="-29.5">2</tspan></text>
<line x1="173" y1="834.0" x2="304.5" y2="834.0" stroke="#33a023" stroke-width="10.5" stroke-linecap="round"/>
<path d="M238.5,809.6 L244.2,826.1 L261.7,826.5 L247.8,837.0 L252.8,853.7 L238.5,843.7 L224.2,853.7 L229.2,837.0 L215.3,826.5 L232.8,826.1Z" fill="#33a023" stroke="#33a023" stroke-width="2.5" stroke-linejoin="round"/>
<text transform="translate(334,858.4) scale(0.965,1)" font-family="Liberation Serif, serif" font-weight="bold" font-size="68"><tspan font-style="italic">x</tspan> = 0</text>
<line x1="173" y1="916.5" x2="304.5" y2="916.5" stroke="#d0cc00" stroke-width="10.5" stroke-linecap="round"/>
<path d="M238.5,892.1 L244.2,908.6 L261.7,909.0 L247.8,919.5 L252.8,936.2 L238.5,926.2 L224.2,936.2 L229.2,919.5 L215.3,909.0 L232.8,908.6Z" fill="#d0cc00" stroke="#d0cc00" stroke-width="2.5" stroke-linejoin="round"/>
<text transform="translate(334,940.9) scale(0.965,1)" font-family="Liberation Serif, serif" font-weight="bold" font-size="68"><tspan font-style="italic">x</tspan> = 0.1</text>
<line x1="173" y1="999.0" x2="304.5" y2="999.0" stroke="#666600" stroke-width="10.5" stroke-linecap="round"/>
<path d="M238.5,974.6 L244.2,991.1 L261.7,991.5 L247.8,1002.0 L252.8,1018.7 L238.5,1008.7 L224.2,1018.7 L229.2,1002.0 L215.3,991.5 L232.8,991.1Z" fill="#666600" stroke="#666600" stroke-width="2.5" stroke-linejoin="round"/>
<text transform="translate(334,1023.4) scale(0.965,1)" font-family="Liberation Serif, serif" font-weight="bold" font-size="68"><tspan font-style="italic">x</tspan> = 0.2</text>
<line x1="173" y1="1081.5" x2="304.5" y2="1081.5" stroke="#80c81a" stroke-width="10.5" stroke-linecap="round"/>
<path d="M238.5,1057.2 L244.2,1073.6 L261.7,1074.0 L247.8,1084.5 L252.8,1101.2 L238.5,1091.2 L224.2,1101.2 L229.2,1084.5 L215.3,1074.0 L232.8,1073.6Z" fill="#80c81a" stroke="#80c81a" stroke-width="2.5" stroke-linejoin="round"/>
<text transform="translate(334,1105.9) scale(0.965,1)" font-family="Liberation Serif, serif" font-weight="bold" font-size="68"><tspan font-style="italic">x</tspan> = 0.3</text>
<line x1="173" y1="1164.0" x2="304.5" y2="1164.0" stroke="#eb6400" stroke-width="10.5" stroke-linecap="round"/>
<path d="M238.5,1139.7 L244.2,1156.1 L261.7,1156.5 L247.8,1167.0 L252.8,1183.7 L238.5,1173.7 L224.2,1183.7 L229.2,1167.0 L215.3,1156.5 L232.8,1156.1Z" fill="#eb6400" stroke="#eb6400" stroke-width="2.5" stroke-linejoin="round"/>
<text transform="translate(334,1188.4) scale(0.965,1)" font-family="Liberation Serif, serif" font-weight="bold" font-size="68"><tspan font-style="italic">x</tspan> = 0.4</text>
<line x1="173" y1="1246.5" x2="304.5" y2="1246.5" stroke="#de9b22" stroke-width="10.5" stroke-linecap="round"/>
<path d="M238.5,1222.2 L244.2,1238.6 L261.7,1239.0 L247.8,1249.5 L252.8,1266.2 L238.5,1256.2 L224.2,1266.2 L229.2,1249.5 L215.3,1239.0 L232.8,1238.6Z" fill="#de9b22" stroke="#de9b22" stroke-width="2.5" stroke-linejoin="round"/>
<text transform="translate(334,1270.9) scale(0.965,1)" font-family="Liberation Serif, serif" font-weight="bold" font-size="68"><tspan font-style="italic">x</tspan> = 0.6</text>
<line x1="173" y1="1329.0" x2="304.5" y2="1329.0" stroke="#ff9900" stroke-width="10.5" stroke-linecap="round"/>
<path d="M238.5,1304.7 L244.2,1321.1 L261.7,1321.5 L247.8,1332.0 L252.8,1348.7 L238.5,1338.7 L224.2,1348.7 L229.2,1332.0 L215.3,1321.5 L232.8,1321.1Z" fill="#ff9900" stroke="#ff9900" stroke-width="2.5" stroke-linejoin="round"/>
<text transform="translate(334,1353.4) scale(0.965,1)" font-family="Liberation Serif, serif" font-weight="bold" font-size="68"><tspan font-style="italic">x</tspan> = 0.8</text>
<line x1="173" y1="1411.5" x2="304.5" y2="1411.5" stroke="#ffcc00" stroke-width="10.5" stroke-linecap="round"/>
<path d="M238.5,1387.2 L244.2,1403.6 L261.7,1404.0 L247.8,1414.5 L252.8,1431.2 L238.5,1421.2 L224.2,1431.2 L229.2,1414.5 L215.3,1404.0 L232.8,1403.6Z" fill="#ffcc00" stroke="#ffcc00" stroke-width="2.5" stroke-linejoin="round"/>
<text transform="translate(334,1435.9) scale(0.965,1)" font-family="Liberation Serif, serif" font-weight="bold" font-size="68"><tspan font-style="italic">x</tspan> = 1</text>
<rect x="241.2" y="78.2" width="762.0" height="614.8" fill="#fff" stroke="#000" stroke-width="4.5"/>
<line x1="243.2" y1="139.7" x2="495.2" y2="139.7" stroke="#de9b22" stroke-width="3" stroke-dasharray="16,16.7"/>
<line x1="243.2" y1="262.6" x2="558.7" y2="262.6" stroke="#de9b22" stroke-width="3" stroke-dasharray="16,16.7"/>
<line x1="243.2" y1="385.6" x2="685.7" y2="385.6" stroke="#de9b22" stroke-width="3" stroke-dasharray="16,16.7"/>
<line x1="243.2" y1="508.6" x2="812.7" y2="508.6" stroke="#de9b22" stroke-width="3" stroke-dasharray="16,16.7"/>
<line x1="243.2" y1="631.5" x2="939.7" y2="631.5" stroke="#de9b22" stroke-width="3" stroke-dasharray="16,16.7"/>
<line x1="304.7" y1="508.6" x2="304.7" y2="691.0" stroke="#de9b22" stroke-width="3" stroke-dasharray="16,16.7"/>
<line x1="368.2" y1="385.6" x2="368.2" y2="691.0" stroke="#de9b22" stroke-width="3" stroke-dasharray="16,16.7"/>
<line x1="431.7" y1="262.6" x2="431.7" y2="691.0" stroke="#de9b22" stroke-width="3" stroke-dasharray="16,16.7"/>
<line x1="495.2" y1="139.7" x2="495.2" y2="691.0" stroke="#de9b22" stroke-width="3" stroke-dasharray="16,16.7"/>
<line x1="558.7" y1="262.6" x2="558.7" y2="691.0" stroke="#de9b22" stroke-width="3" stroke-dasharray="16,16.7"/>
<line x1="685.7" y1="385.6" x2="685.7" y2="691.0" stroke="#de9b22" stroke-width="3" stroke-dasharray="16,16.7"/>
<line x1="812.7" y1="508.6" x2="812.7" y2="691.0" stroke="#de9b22" stroke-width="3" stroke-dasharray="16,16.7"/>
<line x1="939.7" y1="631.5" x2="939.7" y2="691.0" stroke="#de9b22" stroke-width="3" stroke-dasharray="16,16.7"/>
<line x1="241.2" y1="631.5" x2="251.2" y2="631.5" stroke="#000" stroke-width="3"/>
<line x1="241.2" y1="570.0" x2="247.2" y2="570.0" stroke="#000" stroke-width="3"/>
<line x1="241.2" y1="508.6" x2="251.2" y2="508.6" stroke="#000" stroke-width="3"/>
<line x1="241.2" y1="447.1" x2="247.2" y2="447.1" stroke="#000" stroke-width="3"/>
<line x1="241.2" y1="385.6" x2="251.2" y2="385.6" stroke="#000" stroke-width="3"/>
<line x1="241.2" y1="324.1" x2="247.2" y2="324.1" stroke="#000" stroke-width="3"/>
<line x1="241.2" y1="262.6" x2="251.2" y2="262.6" stroke="#000" stroke-width="3"/>
<line x1="241.2" y1="201.2" x2="247.2" y2="201.2" stroke="#000" stroke-width="3"/>
<line x1="241.2" y1="139.7" x2="251.2" y2="139.7" stroke="#000" stroke-width="3"/>
<line x1="304.7" y1="693.0" x2="304.7" y2="683.0" stroke="#000" stroke-width="3"/>
<line x1="368.2" y1="693.0" x2="368.2" y2="687.0" stroke="#000" stroke-width="3"/>
<line x1="431.7" y1="693.0" x2="431.7" y2="683.0" stroke="#000" stroke-width="3"/>
<line x1="495.2" y1="693.0" x2="495.2" y2="687.0" stroke="#000" stroke-width="3"/>
<line x1="558.7" y1="693.0" x2="558.7" y2="683.0" stroke="#000" stroke-width="3"/>
<line x1="622.2" y1="693.0" x2="622.2" y2="687.0" stroke="#000" stroke-width="3"/>
<line x1="685.7" y1="693.0" x2="685.7" y2="683.0" stroke="#000" stroke-width="3"/>
<line x1="749.2" y1="693.0" x2="749.2" y2="687.0" stroke="#000" stroke-width="3"/>
<line x1="812.7" y1="693.0" x2="812.7" y2="683.0" stroke="#000" stroke-width="3"/>
<line x1="876.2" y1="693.0" x2="876.2" y2="687.0" stroke="#000" stroke-width="3"/>
<line x1="939.7" y1="693.0" x2="939.7" y2="683.0" stroke="#000" stroke-width="3"/>
<line x1="318.5" y1="481.9" x2="354.4" y2="412.3" stroke="#000" stroke-width="3"/>
<line x1="382.0" y1="358.9" x2="417.9" y2="289.3" stroke="#000" stroke-width="3"/>
<line x1="445.5" y1="236.0" x2="481.4" y2="166.3" stroke="#000" stroke-width="3"/>
<line x1="509.0" y1="166.3" x2="544.9" y2="236.0" stroke="#000" stroke-width="3"/>
<line x1="580.3" y1="283.5" x2="664.1" y2="364.7" stroke="#000" stroke-width="3"/>
<line x1="707.3" y1="406.5" x2="791.1" y2="487.7" stroke="#000" stroke-width="3"/>
<line x1="834.3" y1="529.4" x2="918.1" y2="610.7" stroke="#000" stroke-width="3"/>
<path d="M304.7,484.9 L310.4,501.4 L327.9,501.7 L314.0,512.3 L319.0,529.0 L304.7,519.0 L290.4,529.0 L295.4,512.3 L281.5,501.7 L299.0,501.4Z" fill="#de9b22" stroke="#de9b22" stroke-width="2.5" stroke-linejoin="round"/>
<path d="M368.2,361.9 L373.9,378.4 L391.4,378.8 L377.5,389.3 L382.5,406.0 L368.2,396.0 L353.9,406.0 L358.9,389.3 L345.0,378.8 L362.5,378.4Z" fill="#de9b22" stroke="#de9b22" stroke-width="2.5" stroke-linejoin="round"/>
<path d="M431.7,239.0 L437.4,255.5 L454.9,255.8 L441.0,266.3 L446.0,283.0 L431.7,273.1 L417.4,283.0 L422.4,266.3 L408.5,255.8 L426.0,255.5Z" fill="#de9b22" stroke="#de9b22" stroke-width="2.5" stroke-linejoin="round"/>
<path d="M495.2,116.0 L500.9,132.5 L518.4,132.9 L504.5,143.4 L509.5,160.1 L495.2,150.1 L480.9,160.1 L485.9,143.4 L472.0,132.9 L489.5,132.5Z" fill="#de9b22" stroke="#de9b22" stroke-width="2.5" stroke-linejoin="round"/>
<path d="M558.7,239.0 L564.4,255.5 L581.9,255.8 L568.0,266.3 L573.0,283.0 L558.7,273.1 L544.4,283.0 L549.4,266.3 L535.5,255.8 L553.0,255.5Z" fill="#de9b22" stroke="#de9b22" stroke-width="2.5" stroke-linejoin="round"/>
<path d="M685.7,361.9 L691.4,378.4 L708.9,378.8 L695.0,389.3 L700.0,406.0 L685.7,396.0 L671.4,406.0 L676.4,389.3 L662.5,378.8 L680.0,378.4Z" fill="#de9b22" stroke="#de9b22" stroke-width="2.5" stroke-linejoin="round"/>
<path d="M812.7,484.9 L818.4,501.4 L835.9,501.7 L822.0,512.3 L827.0,529.0 L812.7,519.0 L798.4,529.0 L803.4,512.3 L789.5,501.7 L807.0,501.4Z" fill="#de9b22" stroke="#de9b22" stroke-width="2.5" stroke-linejoin="round"/>
<path d="M939.7,607.9 L945.4,624.3 L962.9,624.7 L949.0,635.2 L954.0,651.9 L939.7,642.0 L925.4,651.9 L930.4,635.2 L916.5,624.7 L934.0,624.3Z" fill="#de9b22" stroke="#de9b22" stroke-width="2.5" stroke-linejoin="round"/>
<g font-family="Liberation Serif, serif" font-weight="bold" font-size="37" fill="#000">
<text transform="translate(228,643.8) scale(0.93,1)" text-anchor="end">0.99</text>
<text transform="translate(228,520.9) scale(0.93,1)" text-anchor="end">1.00</text>
<text transform="translate(228,397.9) scale(0.93,1)" text-anchor="end">1.01</text>
<text transform="translate(228,274.9) scale(0.93,1)" text-anchor="end">1.02</text>
<text transform="translate(228,152.0) scale(0.93,1)" text-anchor="end">1.03</text>
<text transform="translate(304.7,733.3) scale(0.93,1)" text-anchor="middle">0.0</text>
<text transform="translate(431.7,733.3) scale(0.93,1)" text-anchor="middle">0.2</text>
<text transform="translate(558.7,733.3) scale(0.93,1)" text-anchor="middle">0.4</text>
<text transform="translate(685.7,733.3) scale(0.93,1)" text-anchor="middle">0.6</text>
<text transform="translate(812.7,733.3) scale(0.93,1)" text-anchor="middle">0.8</text>
<text transform="translate(939.7,733.3) scale(0.93,1)" text-anchor="middle">1.0</text>
</g>
<text x="622.5" y="775.7" font-family="Liberation Serif, serif" font-weight="bold" font-size="46.4" text-anchor="middle">Mn content (<tspan font-style="italic">x</tspan>)</text>
<text transform="translate(150.8,385) rotate(-90)" font-family="Liberation Serif, serif" font-weight="bold" font-size="47" text-anchor="middle">Band-gap Energy (eV)</text>
</svg></body></html>
